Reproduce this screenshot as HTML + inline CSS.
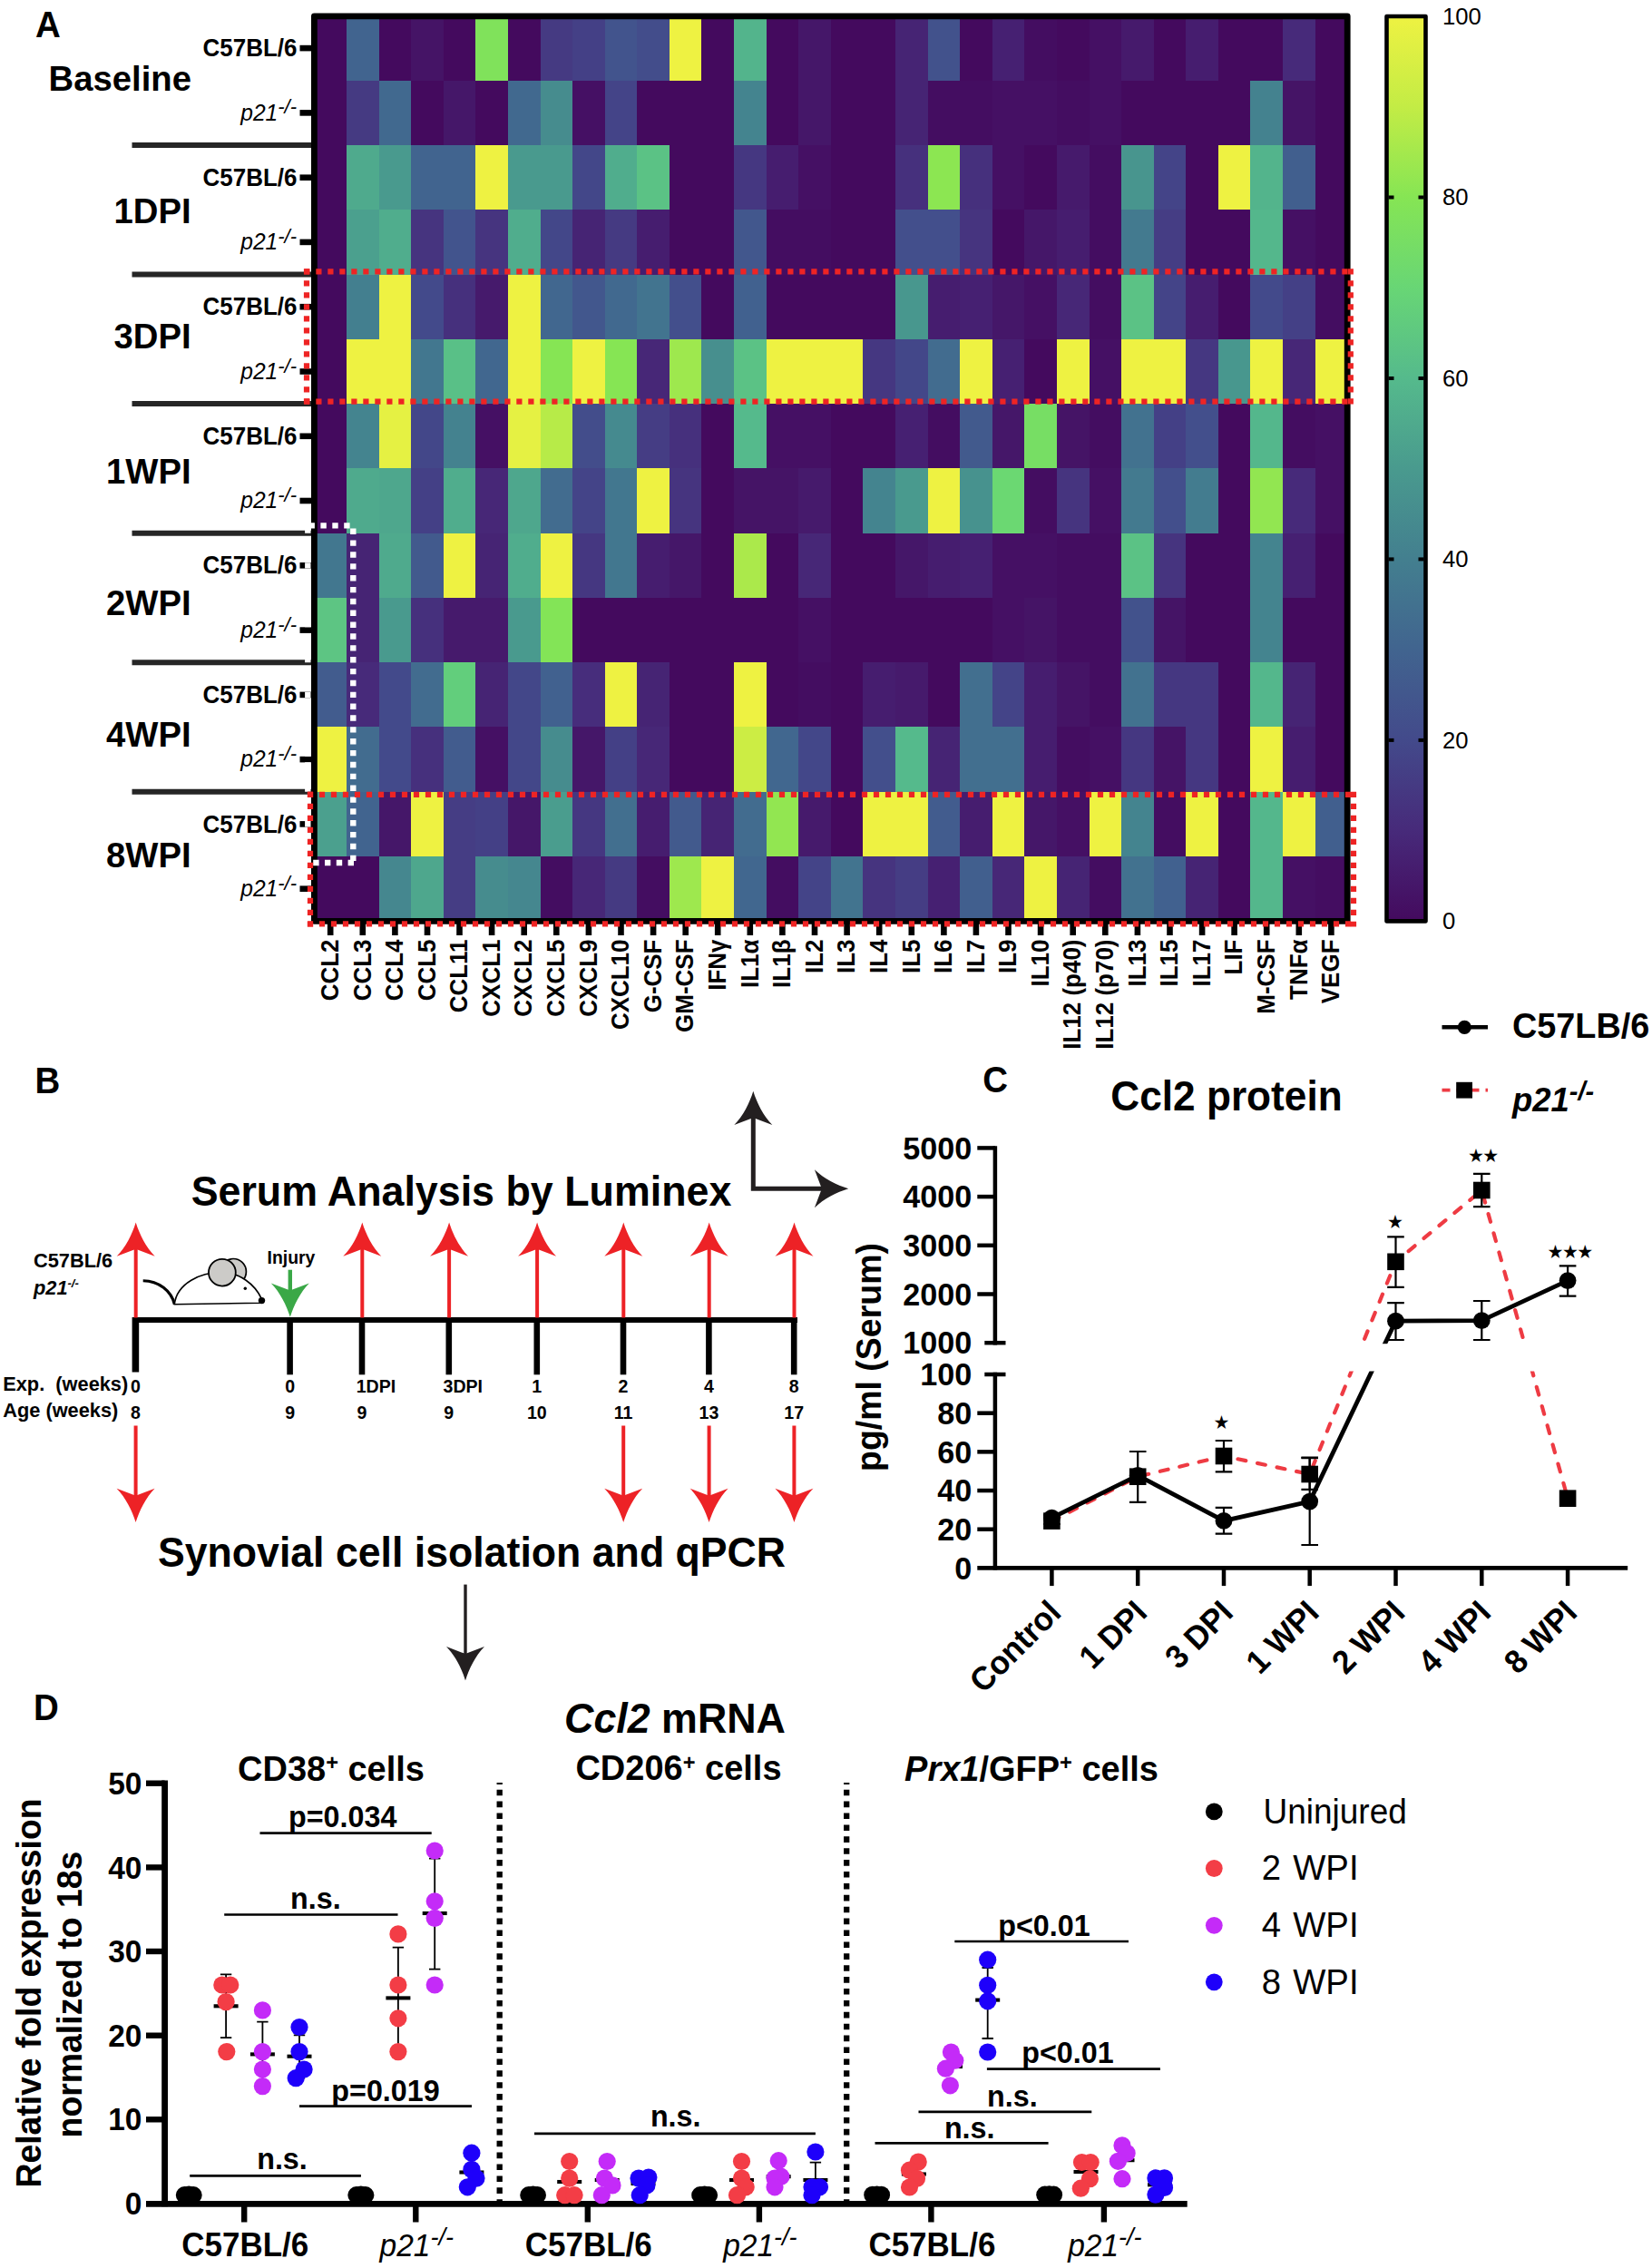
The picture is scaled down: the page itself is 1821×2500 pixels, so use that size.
<!DOCTYPE html>
<html lang="en"><head><meta charset="utf-8"><title>Figure</title>
<style>html,body{margin:0;padding:0;background:#fff}svg{display:block}</style></head>
<body>
<svg width="1821" height="2500" viewBox="0 0 1821 2500" font-family="'Liberation Sans', Arial, Helvetica, sans-serif" fill="#000">
<defs>
<linearGradient id="cb" x1="0" y1="1" x2="0" y2="0">
<stop offset="0%" stop-color="#440a5e"/>
<stop offset="10%" stop-color="#472a7a"/>
<stop offset="20%" stop-color="#434a8b"/>
<stop offset="30%" stop-color="#41648f"/>
<stop offset="40%" stop-color="#437f8f"/>
<stop offset="50%" stop-color="#499a8e"/>
<stop offset="60%" stop-color="#55ba8c"/>
<stop offset="70%" stop-color="#68d675"/>
<stop offset="80%" stop-color="#86e554"/>
<stop offset="90%" stop-color="#c3ec45"/>
<stop offset="100%" stop-color="#eef242"/>
</linearGradient>
<path id="ah" d="M0,0 C-4,13 -11,27 -21,37.3 L-2.5,30.3 L0,29.3 L2.5,30.3 L21,37.3 C11,27 4,13 0,0 Z"/>
</defs>
<rect width="1821" height="2500" fill="#fff"/>
<g id="panelA">
<g shape-rendering="crispEdges">
<rect x="346.40" y="17.50" width="36.09" height="71.77" fill="#440a5e"/>
<rect x="381.99" y="17.50" width="36.09" height="71.77" fill="#41648f"/>
<rect x="417.57" y="17.50" width="36.09" height="71.77" fill="#440a5e"/>
<rect x="453.16" y="17.50" width="36.09" height="71.77" fill="#451466"/>
<rect x="488.75" y="17.50" width="36.09" height="71.77" fill="#440a5e"/>
<rect x="524.34" y="17.50" width="36.09" height="71.77" fill="#80e25b"/>
<rect x="559.92" y="17.50" width="36.09" height="71.77" fill="#440a5e"/>
<rect x="595.51" y="17.50" width="36.09" height="71.77" fill="#453a82"/>
<rect x="631.10" y="17.50" width="36.09" height="71.77" fill="#444086"/>
<rect x="666.69" y="17.50" width="36.09" height="71.77" fill="#42548d"/>
<rect x="702.28" y="17.50" width="36.09" height="71.77" fill="#434d8b"/>
<rect x="737.86" y="17.50" width="36.09" height="71.77" fill="#eef242"/>
<rect x="773.45" y="17.50" width="36.09" height="71.77" fill="#440a5e"/>
<rect x="809.04" y="17.50" width="36.09" height="71.77" fill="#53b48c"/>
<rect x="844.62" y="17.50" width="36.09" height="71.77" fill="#440a5e"/>
<rect x="880.21" y="17.50" width="36.09" height="71.77" fill="#451769"/>
<rect x="915.80" y="17.50" width="71.68" height="71.77" fill="#440a5e"/>
<rect x="986.98" y="17.50" width="36.09" height="71.77" fill="#462474"/>
<rect x="1022.56" y="17.50" width="36.09" height="71.77" fill="#42528c"/>
<rect x="1058.15" y="17.50" width="36.09" height="71.77" fill="#440a5e"/>
<rect x="1093.74" y="17.50" width="36.09" height="71.77" fill="#462072"/>
<rect x="1129.33" y="17.50" width="36.09" height="71.77" fill="#440d61"/>
<rect x="1164.91" y="17.50" width="36.09" height="71.77" fill="#440a5e"/>
<rect x="1200.50" y="17.50" width="36.09" height="71.77" fill="#451064"/>
<rect x="1236.09" y="17.50" width="36.09" height="71.77" fill="#461a6c"/>
<rect x="1271.68" y="17.50" width="36.09" height="71.77" fill="#440a5e"/>
<rect x="1307.26" y="17.50" width="36.09" height="71.77" fill="#461d6f"/>
<rect x="1342.85" y="17.50" width="71.68" height="71.77" fill="#440a5e"/>
<rect x="1414.03" y="17.50" width="36.09" height="71.77" fill="#472a7a"/>
<rect x="1449.61" y="17.50" width="36.09" height="71.77" fill="#440a5e"/>
<rect x="346.40" y="88.77" width="36.09" height="71.77" fill="#440a5e"/>
<rect x="381.99" y="88.77" width="36.09" height="71.77" fill="#453a82"/>
<rect x="417.57" y="88.77" width="36.09" height="71.77" fill="#41698f"/>
<rect x="453.16" y="88.77" width="36.09" height="71.77" fill="#440a5e"/>
<rect x="488.75" y="88.77" width="36.09" height="71.77" fill="#451769"/>
<rect x="524.34" y="88.77" width="36.09" height="71.77" fill="#440a5e"/>
<rect x="559.92" y="88.77" width="36.09" height="71.77" fill="#41698f"/>
<rect x="595.51" y="88.77" width="36.09" height="71.77" fill="#468c8e"/>
<rect x="631.10" y="88.77" width="36.09" height="71.77" fill="#451064"/>
<rect x="666.69" y="88.77" width="36.09" height="71.77" fill="#444488"/>
<rect x="702.28" y="88.77" width="107.26" height="71.77" fill="#440a5e"/>
<rect x="809.04" y="88.77" width="36.09" height="71.77" fill="#44848f"/>
<rect x="844.62" y="88.77" width="36.09" height="71.77" fill="#440a5e"/>
<rect x="880.21" y="88.77" width="36.09" height="71.77" fill="#451769"/>
<rect x="915.80" y="88.77" width="71.68" height="71.77" fill="#440a5e"/>
<rect x="986.98" y="88.77" width="36.09" height="71.77" fill="#462474"/>
<rect x="1022.56" y="88.77" width="71.68" height="71.77" fill="#440d61"/>
<rect x="1093.74" y="88.77" width="71.68" height="71.77" fill="#451064"/>
<rect x="1164.91" y="88.77" width="36.09" height="71.77" fill="#440d61"/>
<rect x="1200.50" y="88.77" width="36.09" height="71.77" fill="#451064"/>
<rect x="1236.09" y="88.77" width="142.85" height="71.77" fill="#440a5e"/>
<rect x="1378.44" y="88.77" width="36.09" height="71.77" fill="#44828f"/>
<rect x="1414.03" y="88.77" width="36.09" height="71.77" fill="#451466"/>
<rect x="1449.61" y="88.77" width="36.09" height="71.77" fill="#440a5e"/>
<rect x="346.40" y="160.04" width="36.09" height="71.77" fill="#440a5e"/>
<rect x="381.99" y="160.04" width="36.09" height="71.77" fill="#4faa8d"/>
<rect x="417.57" y="160.04" width="36.09" height="71.77" fill="#499a8e"/>
<rect x="453.16" y="160.04" width="71.68" height="71.77" fill="#41648f"/>
<rect x="524.34" y="160.04" width="36.09" height="71.77" fill="#eef242"/>
<rect x="559.92" y="160.04" width="71.68" height="71.77" fill="#499a8e"/>
<rect x="631.10" y="160.04" width="36.09" height="71.77" fill="#434789"/>
<rect x="666.69" y="160.04" width="36.09" height="71.77" fill="#50ad8d"/>
<rect x="702.28" y="160.04" width="36.09" height="71.77" fill="#5bc285"/>
<rect x="737.86" y="160.04" width="71.68" height="71.77" fill="#440a5e"/>
<rect x="809.04" y="160.04" width="36.09" height="71.77" fill="#453781"/>
<rect x="844.62" y="160.04" width="36.09" height="71.77" fill="#461d6f"/>
<rect x="880.21" y="160.04" width="36.09" height="71.77" fill="#451064"/>
<rect x="915.80" y="160.04" width="71.68" height="71.77" fill="#440a5e"/>
<rect x="986.98" y="160.04" width="36.09" height="71.77" fill="#46307d"/>
<rect x="1022.56" y="160.04" width="36.09" height="71.77" fill="#8ce652"/>
<rect x="1058.15" y="160.04" width="36.09" height="71.77" fill="#46307d"/>
<rect x="1093.74" y="160.04" width="36.09" height="71.77" fill="#451064"/>
<rect x="1129.33" y="160.04" width="36.09" height="71.77" fill="#440a5e"/>
<rect x="1164.91" y="160.04" width="36.09" height="71.77" fill="#461a6c"/>
<rect x="1200.50" y="160.04" width="36.09" height="71.77" fill="#440d61"/>
<rect x="1236.09" y="160.04" width="36.09" height="71.77" fill="#48958e"/>
<rect x="1271.68" y="160.04" width="36.09" height="71.77" fill="#444488"/>
<rect x="1307.26" y="160.04" width="36.09" height="71.77" fill="#440a5e"/>
<rect x="1342.85" y="160.04" width="36.09" height="71.77" fill="#eef242"/>
<rect x="1378.44" y="160.04" width="36.09" height="71.77" fill="#53b48c"/>
<rect x="1414.03" y="160.04" width="36.09" height="71.77" fill="#415f8e"/>
<rect x="1449.61" y="160.04" width="36.09" height="71.77" fill="#440a5e"/>
<rect x="346.40" y="231.31" width="36.09" height="71.77" fill="#440a5e"/>
<rect x="381.99" y="231.31" width="36.09" height="71.77" fill="#4ba08e"/>
<rect x="417.57" y="231.31" width="36.09" height="71.77" fill="#50ad8d"/>
<rect x="453.16" y="231.31" width="36.09" height="71.77" fill="#46347f"/>
<rect x="488.75" y="231.31" width="36.09" height="71.77" fill="#42548d"/>
<rect x="524.34" y="231.31" width="36.09" height="71.77" fill="#46347f"/>
<rect x="559.92" y="231.31" width="36.09" height="71.77" fill="#50ad8d"/>
<rect x="595.51" y="231.31" width="36.09" height="71.77" fill="#434789"/>
<rect x="631.10" y="231.31" width="36.09" height="71.77" fill="#462474"/>
<rect x="666.69" y="231.31" width="36.09" height="71.77" fill="#453a82"/>
<rect x="702.28" y="231.31" width="36.09" height="71.77" fill="#461d6f"/>
<rect x="737.86" y="231.31" width="71.68" height="71.77" fill="#440a5e"/>
<rect x="809.04" y="231.31" width="36.09" height="71.77" fill="#42578d"/>
<rect x="844.62" y="231.31" width="71.68" height="71.77" fill="#440d61"/>
<rect x="915.80" y="231.31" width="71.68" height="71.77" fill="#440a5e"/>
<rect x="986.98" y="231.31" width="71.68" height="71.77" fill="#434f8c"/>
<rect x="1058.15" y="231.31" width="36.09" height="71.77" fill="#46347f"/>
<rect x="1093.74" y="231.31" width="36.09" height="71.77" fill="#440a5e"/>
<rect x="1129.33" y="231.31" width="36.09" height="71.77" fill="#451769"/>
<rect x="1164.91" y="231.31" width="36.09" height="71.77" fill="#461d6f"/>
<rect x="1200.50" y="231.31" width="36.09" height="71.77" fill="#440d61"/>
<rect x="1236.09" y="231.31" width="36.09" height="71.77" fill="#437a8f"/>
<rect x="1271.68" y="231.31" width="36.09" height="71.77" fill="#453d84"/>
<rect x="1307.26" y="231.31" width="71.68" height="71.77" fill="#440a5e"/>
<rect x="1378.44" y="231.31" width="36.09" height="71.77" fill="#54b78c"/>
<rect x="1414.03" y="231.31" width="36.09" height="71.77" fill="#451064"/>
<rect x="1449.61" y="231.31" width="36.09" height="71.77" fill="#440a5e"/>
<rect x="346.40" y="302.59" width="36.09" height="71.77" fill="#440a5e"/>
<rect x="381.99" y="302.59" width="36.09" height="71.77" fill="#437f8f"/>
<rect x="417.57" y="302.59" width="36.09" height="71.77" fill="#eef242"/>
<rect x="453.16" y="302.59" width="36.09" height="71.77" fill="#434a8b"/>
<rect x="488.75" y="302.59" width="36.09" height="71.77" fill="#46307d"/>
<rect x="524.34" y="302.59" width="36.09" height="71.77" fill="#461a6c"/>
<rect x="559.92" y="302.59" width="36.09" height="71.77" fill="#eef242"/>
<rect x="595.51" y="302.59" width="36.09" height="71.77" fill="#41678f"/>
<rect x="631.10" y="302.59" width="36.09" height="71.77" fill="#42578d"/>
<rect x="666.69" y="302.59" width="36.09" height="71.77" fill="#41698f"/>
<rect x="702.28" y="302.59" width="36.09" height="71.77" fill="#42748f"/>
<rect x="737.86" y="302.59" width="36.09" height="71.77" fill="#434f8c"/>
<rect x="773.45" y="302.59" width="36.09" height="71.77" fill="#440a5e"/>
<rect x="809.04" y="302.59" width="36.09" height="71.77" fill="#41618f"/>
<rect x="844.62" y="302.59" width="142.85" height="71.77" fill="#440a5e"/>
<rect x="986.98" y="302.59" width="36.09" height="71.77" fill="#48978e"/>
<rect x="1022.56" y="302.59" width="36.09" height="71.77" fill="#461d6f"/>
<rect x="1058.15" y="302.59" width="36.09" height="71.77" fill="#462072"/>
<rect x="1093.74" y="302.59" width="36.09" height="71.77" fill="#451769"/>
<rect x="1129.33" y="302.59" width="36.09" height="71.77" fill="#451064"/>
<rect x="1164.91" y="302.59" width="36.09" height="71.77" fill="#472777"/>
<rect x="1200.50" y="302.59" width="36.09" height="71.77" fill="#440d61"/>
<rect x="1236.09" y="302.59" width="36.09" height="71.77" fill="#5bc285"/>
<rect x="1271.68" y="302.59" width="36.09" height="71.77" fill="#444488"/>
<rect x="1307.26" y="302.59" width="36.09" height="71.77" fill="#461d6f"/>
<rect x="1342.85" y="302.59" width="36.09" height="71.77" fill="#440a5e"/>
<rect x="1378.44" y="302.59" width="36.09" height="71.77" fill="#434a8b"/>
<rect x="1414.03" y="302.59" width="36.09" height="71.77" fill="#444086"/>
<rect x="1449.61" y="302.59" width="36.09" height="71.77" fill="#440d61"/>
<rect x="346.40" y="373.86" width="36.09" height="71.77" fill="#440a5e"/>
<rect x="381.99" y="373.86" width="71.68" height="71.77" fill="#eef242"/>
<rect x="453.16" y="373.86" width="36.09" height="71.77" fill="#42778f"/>
<rect x="488.75" y="373.86" width="36.09" height="71.77" fill="#59c087"/>
<rect x="524.34" y="373.86" width="36.09" height="71.77" fill="#41678f"/>
<rect x="559.92" y="373.86" width="36.09" height="71.77" fill="#eef242"/>
<rect x="595.51" y="373.86" width="36.09" height="71.77" fill="#86e554"/>
<rect x="631.10" y="373.86" width="36.09" height="71.77" fill="#eef242"/>
<rect x="666.69" y="373.86" width="36.09" height="71.77" fill="#86e554"/>
<rect x="702.28" y="373.86" width="36.09" height="71.77" fill="#472777"/>
<rect x="737.86" y="373.86" width="36.09" height="71.77" fill="#9ee84e"/>
<rect x="773.45" y="373.86" width="36.09" height="71.77" fill="#478f8e"/>
<rect x="809.04" y="373.86" width="36.09" height="71.77" fill="#5bc285"/>
<rect x="844.62" y="373.86" width="107.26" height="71.77" fill="#eef242"/>
<rect x="951.39" y="373.86" width="36.09" height="71.77" fill="#453781"/>
<rect x="986.98" y="373.86" width="36.09" height="71.77" fill="#434789"/>
<rect x="1022.56" y="373.86" width="36.09" height="71.77" fill="#426c8f"/>
<rect x="1058.15" y="373.86" width="36.09" height="71.77" fill="#eef242"/>
<rect x="1093.74" y="373.86" width="36.09" height="71.77" fill="#462072"/>
<rect x="1129.33" y="373.86" width="36.09" height="71.77" fill="#440a5e"/>
<rect x="1164.91" y="373.86" width="36.09" height="71.77" fill="#eef242"/>
<rect x="1200.50" y="373.86" width="36.09" height="71.77" fill="#451064"/>
<rect x="1236.09" y="373.86" width="71.68" height="71.77" fill="#eef242"/>
<rect x="1307.26" y="373.86" width="36.09" height="71.77" fill="#453781"/>
<rect x="1342.85" y="373.86" width="36.09" height="71.77" fill="#48978e"/>
<rect x="1378.44" y="373.86" width="36.09" height="71.77" fill="#eef242"/>
<rect x="1414.03" y="373.86" width="36.09" height="71.77" fill="#472777"/>
<rect x="1449.61" y="373.86" width="36.09" height="71.77" fill="#eef242"/>
<rect x="346.40" y="445.13" width="36.09" height="71.77" fill="#440a5e"/>
<rect x="381.99" y="445.13" width="36.09" height="71.77" fill="#44848f"/>
<rect x="417.57" y="445.13" width="36.09" height="71.77" fill="#e5f143"/>
<rect x="453.16" y="445.13" width="36.09" height="71.77" fill="#434789"/>
<rect x="488.75" y="445.13" width="36.09" height="71.77" fill="#44828f"/>
<rect x="524.34" y="445.13" width="36.09" height="71.77" fill="#451064"/>
<rect x="559.92" y="445.13" width="36.09" height="71.77" fill="#e5f143"/>
<rect x="595.51" y="445.13" width="36.09" height="71.77" fill="#b7eb48"/>
<rect x="631.10" y="445.13" width="36.09" height="71.77" fill="#434d8b"/>
<rect x="666.69" y="445.13" width="36.09" height="71.77" fill="#458a8f"/>
<rect x="702.28" y="445.13" width="36.09" height="71.77" fill="#453d84"/>
<rect x="737.86" y="445.13" width="36.09" height="71.77" fill="#46307d"/>
<rect x="773.45" y="445.13" width="36.09" height="71.77" fill="#440a5e"/>
<rect x="809.04" y="445.13" width="36.09" height="71.77" fill="#55ba8c"/>
<rect x="844.62" y="445.13" width="71.68" height="71.77" fill="#451064"/>
<rect x="915.80" y="445.13" width="71.68" height="71.77" fill="#440a5e"/>
<rect x="986.98" y="445.13" width="36.09" height="71.77" fill="#462072"/>
<rect x="1022.56" y="445.13" width="36.09" height="71.77" fill="#440d61"/>
<rect x="1058.15" y="445.13" width="36.09" height="71.77" fill="#425a8d"/>
<rect x="1093.74" y="445.13" width="36.09" height="71.77" fill="#451769"/>
<rect x="1129.33" y="445.13" width="36.09" height="71.77" fill="#77de64"/>
<rect x="1164.91" y="445.13" width="36.09" height="71.77" fill="#451466"/>
<rect x="1200.50" y="445.13" width="36.09" height="71.77" fill="#440d61"/>
<rect x="1236.09" y="445.13" width="36.09" height="71.77" fill="#42728f"/>
<rect x="1271.68" y="445.13" width="36.09" height="71.77" fill="#444086"/>
<rect x="1307.26" y="445.13" width="36.09" height="71.77" fill="#434f8c"/>
<rect x="1342.85" y="445.13" width="36.09" height="71.77" fill="#440a5e"/>
<rect x="1378.44" y="445.13" width="36.09" height="71.77" fill="#54b78c"/>
<rect x="1414.03" y="445.13" width="36.09" height="71.77" fill="#440d61"/>
<rect x="1449.61" y="445.13" width="36.09" height="71.77" fill="#451064"/>
<rect x="346.40" y="516.40" width="36.09" height="71.77" fill="#440a5e"/>
<rect x="381.99" y="516.40" width="36.09" height="71.77" fill="#4faa8d"/>
<rect x="417.57" y="516.40" width="36.09" height="71.77" fill="#4ea78d"/>
<rect x="453.16" y="516.40" width="36.09" height="71.77" fill="#444086"/>
<rect x="488.75" y="516.40" width="36.09" height="71.77" fill="#50ad8d"/>
<rect x="524.34" y="516.40" width="36.09" height="71.77" fill="#472777"/>
<rect x="559.92" y="516.40" width="36.09" height="71.77" fill="#4ea78d"/>
<rect x="595.51" y="516.40" width="36.09" height="71.77" fill="#426c8f"/>
<rect x="631.10" y="516.40" width="36.09" height="71.77" fill="#444488"/>
<rect x="666.69" y="516.40" width="36.09" height="71.77" fill="#42778f"/>
<rect x="702.28" y="516.40" width="36.09" height="71.77" fill="#eef242"/>
<rect x="737.86" y="516.40" width="36.09" height="71.77" fill="#46347f"/>
<rect x="773.45" y="516.40" width="36.09" height="71.77" fill="#440a5e"/>
<rect x="809.04" y="516.40" width="71.68" height="71.77" fill="#451466"/>
<rect x="880.21" y="516.40" width="36.09" height="71.77" fill="#461a6c"/>
<rect x="915.80" y="516.40" width="36.09" height="71.77" fill="#440a5e"/>
<rect x="951.39" y="516.40" width="36.09" height="71.77" fill="#44848f"/>
<rect x="986.98" y="516.40" width="36.09" height="71.77" fill="#499a8e"/>
<rect x="1022.56" y="516.40" width="36.09" height="71.77" fill="#eef242"/>
<rect x="1058.15" y="516.40" width="36.09" height="71.77" fill="#47928e"/>
<rect x="1093.74" y="516.40" width="36.09" height="71.77" fill="#6bd872"/>
<rect x="1129.33" y="516.40" width="36.09" height="71.77" fill="#440d61"/>
<rect x="1164.91" y="516.40" width="36.09" height="71.77" fill="#46347f"/>
<rect x="1200.50" y="516.40" width="36.09" height="71.77" fill="#451064"/>
<rect x="1236.09" y="516.40" width="36.09" height="71.77" fill="#437a8f"/>
<rect x="1271.68" y="516.40" width="36.09" height="71.77" fill="#434f8c"/>
<rect x="1307.26" y="516.40" width="36.09" height="71.77" fill="#437c8f"/>
<rect x="1342.85" y="516.40" width="36.09" height="71.77" fill="#440a5e"/>
<rect x="1378.44" y="516.40" width="36.09" height="71.77" fill="#92e651"/>
<rect x="1414.03" y="516.40" width="36.09" height="71.77" fill="#472a7a"/>
<rect x="1449.61" y="516.40" width="36.09" height="71.77" fill="#451064"/>
<rect x="346.40" y="587.67" width="36.09" height="71.77" fill="#42778f"/>
<rect x="381.99" y="587.67" width="36.09" height="71.77" fill="#462474"/>
<rect x="417.57" y="587.67" width="36.09" height="71.77" fill="#4faa8d"/>
<rect x="453.16" y="587.67" width="36.09" height="71.77" fill="#425a8d"/>
<rect x="488.75" y="587.67" width="36.09" height="71.77" fill="#eef242"/>
<rect x="524.34" y="587.67" width="36.09" height="71.77" fill="#462474"/>
<rect x="559.92" y="587.67" width="36.09" height="71.77" fill="#50ad8d"/>
<rect x="595.51" y="587.67" width="36.09" height="71.77" fill="#eef242"/>
<rect x="631.10" y="587.67" width="36.09" height="71.77" fill="#453781"/>
<rect x="666.69" y="587.67" width="36.09" height="71.77" fill="#42778f"/>
<rect x="702.28" y="587.67" width="36.09" height="71.77" fill="#461d6f"/>
<rect x="737.86" y="587.67" width="36.09" height="71.77" fill="#451769"/>
<rect x="773.45" y="587.67" width="36.09" height="71.77" fill="#440a5e"/>
<rect x="809.04" y="587.67" width="36.09" height="71.77" fill="#abe94b"/>
<rect x="844.62" y="587.67" width="36.09" height="71.77" fill="#440a5e"/>
<rect x="880.21" y="587.67" width="36.09" height="71.77" fill="#472777"/>
<rect x="915.80" y="587.67" width="71.68" height="71.77" fill="#440a5e"/>
<rect x="986.98" y="587.67" width="36.09" height="71.77" fill="#451769"/>
<rect x="1022.56" y="587.67" width="36.09" height="71.77" fill="#461d6f"/>
<rect x="1058.15" y="587.67" width="36.09" height="71.77" fill="#462072"/>
<rect x="1093.74" y="587.67" width="71.68" height="71.77" fill="#451064"/>
<rect x="1164.91" y="587.67" width="71.68" height="71.77" fill="#440d61"/>
<rect x="1236.09" y="587.67" width="36.09" height="71.77" fill="#5bc285"/>
<rect x="1271.68" y="587.67" width="36.09" height="71.77" fill="#46347f"/>
<rect x="1307.26" y="587.67" width="71.68" height="71.77" fill="#440a5e"/>
<rect x="1378.44" y="587.67" width="36.09" height="71.77" fill="#44848f"/>
<rect x="1414.03" y="587.67" width="36.09" height="71.77" fill="#462072"/>
<rect x="1449.61" y="587.67" width="36.09" height="71.77" fill="#440a5e"/>
<rect x="346.40" y="658.94" width="36.09" height="71.77" fill="#5dc583"/>
<rect x="381.99" y="658.94" width="36.09" height="71.77" fill="#462474"/>
<rect x="417.57" y="658.94" width="36.09" height="71.77" fill="#499a8e"/>
<rect x="453.16" y="658.94" width="36.09" height="71.77" fill="#46307d"/>
<rect x="488.75" y="658.94" width="71.68" height="71.77" fill="#461a6c"/>
<rect x="559.92" y="658.94" width="36.09" height="71.77" fill="#499a8e"/>
<rect x="595.51" y="658.94" width="36.09" height="71.77" fill="#83e457"/>
<rect x="631.10" y="658.94" width="249.61" height="71.77" fill="#440a5e"/>
<rect x="880.21" y="658.94" width="36.09" height="71.77" fill="#451064"/>
<rect x="915.80" y="658.94" width="178.44" height="71.77" fill="#440a5e"/>
<rect x="1093.74" y="658.94" width="36.09" height="71.77" fill="#451064"/>
<rect x="1129.33" y="658.94" width="36.09" height="71.77" fill="#451466"/>
<rect x="1164.91" y="658.94" width="71.68" height="71.77" fill="#440d61"/>
<rect x="1236.09" y="658.94" width="36.09" height="71.77" fill="#42528c"/>
<rect x="1271.68" y="658.94" width="36.09" height="71.77" fill="#451466"/>
<rect x="1307.26" y="658.94" width="71.68" height="71.77" fill="#440a5e"/>
<rect x="1378.44" y="658.94" width="36.09" height="71.77" fill="#44848f"/>
<rect x="1414.03" y="658.94" width="71.68" height="71.77" fill="#440a5e"/>
<rect x="346.40" y="730.21" width="36.09" height="71.77" fill="#425c8e"/>
<rect x="381.99" y="730.21" width="36.09" height="71.77" fill="#472a7a"/>
<rect x="417.57" y="730.21" width="36.09" height="71.77" fill="#434a8b"/>
<rect x="453.16" y="730.21" width="36.09" height="71.77" fill="#426c8f"/>
<rect x="488.75" y="730.21" width="36.09" height="71.77" fill="#62ce7c"/>
<rect x="524.34" y="730.21" width="36.09" height="71.77" fill="#462474"/>
<rect x="559.92" y="730.21" width="36.09" height="71.77" fill="#434789"/>
<rect x="595.51" y="730.21" width="36.09" height="71.77" fill="#41618f"/>
<rect x="631.10" y="730.21" width="36.09" height="71.77" fill="#472d7c"/>
<rect x="666.69" y="730.21" width="36.09" height="71.77" fill="#eef242"/>
<rect x="702.28" y="730.21" width="36.09" height="71.77" fill="#462474"/>
<rect x="737.86" y="730.21" width="71.68" height="71.77" fill="#440a5e"/>
<rect x="809.04" y="730.21" width="36.09" height="71.77" fill="#eef242"/>
<rect x="844.62" y="730.21" width="36.09" height="71.77" fill="#440a5e"/>
<rect x="880.21" y="730.21" width="36.09" height="71.77" fill="#440d61"/>
<rect x="915.80" y="730.21" width="36.09" height="71.77" fill="#440a5e"/>
<rect x="951.39" y="730.21" width="36.09" height="71.77" fill="#461d6f"/>
<rect x="986.98" y="730.21" width="36.09" height="71.77" fill="#461a6c"/>
<rect x="1022.56" y="730.21" width="36.09" height="71.77" fill="#440a5e"/>
<rect x="1058.15" y="730.21" width="36.09" height="71.77" fill="#426f8f"/>
<rect x="1093.74" y="730.21" width="36.09" height="71.77" fill="#444488"/>
<rect x="1129.33" y="730.21" width="36.09" height="71.77" fill="#461d6f"/>
<rect x="1164.91" y="730.21" width="36.09" height="71.77" fill="#451466"/>
<rect x="1200.50" y="730.21" width="36.09" height="71.77" fill="#440d61"/>
<rect x="1236.09" y="730.21" width="36.09" height="71.77" fill="#42728f"/>
<rect x="1271.68" y="730.21" width="71.68" height="71.77" fill="#453781"/>
<rect x="1342.85" y="730.21" width="36.09" height="71.77" fill="#440a5e"/>
<rect x="1378.44" y="730.21" width="36.09" height="71.77" fill="#54b78c"/>
<rect x="1414.03" y="730.21" width="36.09" height="71.77" fill="#462474"/>
<rect x="1449.61" y="730.21" width="36.09" height="71.77" fill="#440a5e"/>
<rect x="346.40" y="801.49" width="36.09" height="71.77" fill="#eef242"/>
<rect x="381.99" y="801.49" width="36.09" height="71.77" fill="#426c8f"/>
<rect x="417.57" y="801.49" width="36.09" height="71.77" fill="#434a8b"/>
<rect x="453.16" y="801.49" width="36.09" height="71.77" fill="#46307d"/>
<rect x="488.75" y="801.49" width="36.09" height="71.77" fill="#425c8e"/>
<rect x="524.34" y="801.49" width="36.09" height="71.77" fill="#451064"/>
<rect x="559.92" y="801.49" width="36.09" height="71.77" fill="#434789"/>
<rect x="595.51" y="801.49" width="36.09" height="71.77" fill="#468c8e"/>
<rect x="631.10" y="801.49" width="36.09" height="71.77" fill="#451769"/>
<rect x="666.69" y="801.49" width="36.09" height="71.77" fill="#444086"/>
<rect x="702.28" y="801.49" width="36.09" height="71.77" fill="#472777"/>
<rect x="737.86" y="801.49" width="71.68" height="71.77" fill="#440a5e"/>
<rect x="809.04" y="801.49" width="36.09" height="71.77" fill="#cced44"/>
<rect x="844.62" y="801.49" width="36.09" height="71.77" fill="#41678f"/>
<rect x="880.21" y="801.49" width="36.09" height="71.77" fill="#434789"/>
<rect x="915.80" y="801.49" width="36.09" height="71.77" fill="#440a5e"/>
<rect x="951.39" y="801.49" width="36.09" height="71.77" fill="#434f8c"/>
<rect x="986.98" y="801.49" width="36.09" height="71.77" fill="#55ba8c"/>
<rect x="1022.56" y="801.49" width="36.09" height="71.77" fill="#462474"/>
<rect x="1058.15" y="801.49" width="71.68" height="71.77" fill="#426f8f"/>
<rect x="1129.33" y="801.49" width="36.09" height="71.77" fill="#461d6f"/>
<rect x="1164.91" y="801.49" width="36.09" height="71.77" fill="#440d61"/>
<rect x="1200.50" y="801.49" width="36.09" height="71.77" fill="#451064"/>
<rect x="1236.09" y="801.49" width="36.09" height="71.77" fill="#453781"/>
<rect x="1271.68" y="801.49" width="36.09" height="71.77" fill="#451466"/>
<rect x="1307.26" y="801.49" width="36.09" height="71.77" fill="#453781"/>
<rect x="1342.85" y="801.49" width="36.09" height="71.77" fill="#440a5e"/>
<rect x="1378.44" y="801.49" width="36.09" height="71.77" fill="#eef242"/>
<rect x="1414.03" y="801.49" width="36.09" height="71.77" fill="#461d6f"/>
<rect x="1449.61" y="801.49" width="36.09" height="71.77" fill="#440a5e"/>
<rect x="346.40" y="872.76" width="36.09" height="71.77" fill="#4ba08e"/>
<rect x="381.99" y="872.76" width="36.09" height="71.77" fill="#41648f"/>
<rect x="417.57" y="872.76" width="36.09" height="71.77" fill="#451769"/>
<rect x="453.16" y="872.76" width="36.09" height="71.77" fill="#eef242"/>
<rect x="488.75" y="872.76" width="36.09" height="71.77" fill="#453d84"/>
<rect x="524.34" y="872.76" width="36.09" height="71.77" fill="#444086"/>
<rect x="559.92" y="872.76" width="36.09" height="71.77" fill="#451769"/>
<rect x="595.51" y="872.76" width="36.09" height="71.77" fill="#4a9d8e"/>
<rect x="631.10" y="872.76" width="36.09" height="71.77" fill="#453781"/>
<rect x="666.69" y="872.76" width="36.09" height="71.77" fill="#426f8f"/>
<rect x="702.28" y="872.76" width="36.09" height="71.77" fill="#461d6f"/>
<rect x="737.86" y="872.76" width="36.09" height="71.77" fill="#425a8d"/>
<rect x="773.45" y="872.76" width="36.09" height="71.77" fill="#462474"/>
<rect x="809.04" y="872.76" width="36.09" height="71.77" fill="#426c8f"/>
<rect x="844.62" y="872.76" width="36.09" height="71.77" fill="#92e651"/>
<rect x="880.21" y="872.76" width="36.09" height="71.77" fill="#461a6c"/>
<rect x="915.80" y="872.76" width="36.09" height="71.77" fill="#440a5e"/>
<rect x="951.39" y="872.76" width="71.68" height="71.77" fill="#eef242"/>
<rect x="1022.56" y="872.76" width="36.09" height="71.77" fill="#425c8e"/>
<rect x="1058.15" y="872.76" width="36.09" height="71.77" fill="#461d6f"/>
<rect x="1093.74" y="872.76" width="36.09" height="71.77" fill="#eef242"/>
<rect x="1129.33" y="872.76" width="36.09" height="71.77" fill="#451769"/>
<rect x="1164.91" y="872.76" width="36.09" height="71.77" fill="#451064"/>
<rect x="1200.50" y="872.76" width="36.09" height="71.77" fill="#eef242"/>
<rect x="1236.09" y="872.76" width="36.09" height="71.77" fill="#44848f"/>
<rect x="1271.68" y="872.76" width="36.09" height="71.77" fill="#440d61"/>
<rect x="1307.26" y="872.76" width="36.09" height="71.77" fill="#eef242"/>
<rect x="1342.85" y="872.76" width="36.09" height="71.77" fill="#440a5e"/>
<rect x="1378.44" y="872.76" width="36.09" height="71.77" fill="#54b78c"/>
<rect x="1414.03" y="872.76" width="36.09" height="71.77" fill="#eef242"/>
<rect x="1449.61" y="872.76" width="36.09" height="71.77" fill="#415f8e"/>
<rect x="346.40" y="944.03" width="71.68" height="71.77" fill="#440a5e"/>
<rect x="417.57" y="944.03" width="36.09" height="71.77" fill="#45878f"/>
<rect x="453.16" y="944.03" width="36.09" height="71.77" fill="#4ea78d"/>
<rect x="488.75" y="944.03" width="36.09" height="71.77" fill="#453d84"/>
<rect x="524.34" y="944.03" width="36.09" height="71.77" fill="#468c8e"/>
<rect x="559.92" y="944.03" width="36.09" height="71.77" fill="#45878f"/>
<rect x="595.51" y="944.03" width="36.09" height="71.77" fill="#440d61"/>
<rect x="631.10" y="944.03" width="36.09" height="71.77" fill="#472777"/>
<rect x="666.69" y="944.03" width="36.09" height="71.77" fill="#453a82"/>
<rect x="702.28" y="944.03" width="36.09" height="71.77" fill="#440d61"/>
<rect x="737.86" y="944.03" width="36.09" height="71.77" fill="#9ee84e"/>
<rect x="773.45" y="944.03" width="36.09" height="71.77" fill="#eef242"/>
<rect x="809.04" y="944.03" width="36.09" height="71.77" fill="#41678f"/>
<rect x="844.62" y="944.03" width="36.09" height="71.77" fill="#440d61"/>
<rect x="880.21" y="944.03" width="36.09" height="71.77" fill="#444488"/>
<rect x="915.80" y="944.03" width="36.09" height="71.77" fill="#42748f"/>
<rect x="951.39" y="944.03" width="36.09" height="71.77" fill="#46347f"/>
<rect x="986.98" y="944.03" width="36.09" height="71.77" fill="#453d84"/>
<rect x="1022.56" y="944.03" width="36.09" height="71.77" fill="#462072"/>
<rect x="1058.15" y="944.03" width="36.09" height="71.77" fill="#415f8e"/>
<rect x="1093.74" y="944.03" width="36.09" height="71.77" fill="#472777"/>
<rect x="1129.33" y="944.03" width="36.09" height="71.77" fill="#eef242"/>
<rect x="1164.91" y="944.03" width="36.09" height="71.77" fill="#462474"/>
<rect x="1200.50" y="944.03" width="36.09" height="71.77" fill="#440d61"/>
<rect x="1236.09" y="944.03" width="36.09" height="71.77" fill="#42728f"/>
<rect x="1271.68" y="944.03" width="36.09" height="71.77" fill="#41618f"/>
<rect x="1307.26" y="944.03" width="36.09" height="71.77" fill="#462474"/>
<rect x="1342.85" y="944.03" width="36.09" height="71.77" fill="#440a5e"/>
<rect x="1378.44" y="944.03" width="36.09" height="71.77" fill="#54b78c"/>
<rect x="1414.03" y="944.03" width="36.09" height="71.77" fill="#451064"/>
<rect x="1449.61" y="944.03" width="36.09" height="71.77" fill="#440d61"/>
</g>
<line x1="145.5" y1="160.0" x2="346" y2="160.0" stroke="#262626" stroke-width="6"/>
<line x1="145.5" y1="302.6" x2="346" y2="302.6" stroke="#262626" stroke-width="6"/>
<line x1="145.5" y1="445.1" x2="346" y2="445.1" stroke="#262626" stroke-width="6"/>
<line x1="145.5" y1="587.7" x2="346" y2="587.7" stroke="#262626" stroke-width="6"/>
<line x1="145.5" y1="730.2" x2="346" y2="730.2" stroke="#262626" stroke-width="6"/>
<line x1="145.5" y1="872.8" x2="346" y2="872.8" stroke="#262626" stroke-width="6"/>
<rect x="346.4" y="17.8" width="1138.8" height="997.5" fill="none" stroke="#000" stroke-width="6.8" stroke-linejoin="round"/>
<line x1="330.5" y1="53.1" x2="344" y2="53.1" stroke="#000" stroke-width="6.6"/>
<text transform="matrix(1,0,0,1.035,0,-2.180)" x="327.5" y="62.3" font-size="26" font-weight="bold" text-anchor="end">C57BL/6</text>
<line x1="330.5" y1="124.4" x2="344" y2="124.4" stroke="#000" stroke-width="6.6"/>
<text transform="matrix(1,0,0,1.035,0,-4.644)" x="327" y="132.7" font-size="24.6" font-style="italic" text-anchor="end">p21<tspan font-size="22" dy="-7">-/-</tspan></text>
<line x1="330.5" y1="195.7" x2="344" y2="195.7" stroke="#000" stroke-width="6.6"/>
<text transform="matrix(1,0,0,1.035,0,-7.171)" x="327.5" y="204.9" font-size="26" font-weight="bold" text-anchor="end">C57BL/6</text>
<line x1="330.5" y1="266.9" x2="344" y2="266.9" stroke="#000" stroke-width="6.6"/>
<text transform="matrix(1,0,0,1.035,0,-9.632)" x="327" y="275.2" font-size="24.6" font-style="italic" text-anchor="end">p21<tspan font-size="22" dy="-7">-/-</tspan></text>
<line x1="330.5" y1="338.2" x2="344" y2="338.2" stroke="#000" stroke-width="6.6"/>
<text transform="matrix(1,0,0,1.035,0,-12.159)" x="327.5" y="347.4" font-size="26" font-weight="bold" text-anchor="end">C57BL/6</text>
<line x1="330.5" y1="409.5" x2="344" y2="409.5" stroke="#000" stroke-width="6.6"/>
<text transform="matrix(1,0,0,1.035,0,-14.623)" x="327" y="417.8" font-size="24.6" font-style="italic" text-anchor="end">p21<tspan font-size="22" dy="-7">-/-</tspan></text>
<line x1="330.5" y1="480.8" x2="344" y2="480.8" stroke="#000" stroke-width="6.6"/>
<text transform="matrix(1,0,0,1.035,0,-17.150)" x="327.5" y="490.0" font-size="26" font-weight="bold" text-anchor="end">C57BL/6</text>
<line x1="330.5" y1="552.0" x2="344" y2="552.0" stroke="#000" stroke-width="6.6"/>
<text transform="matrix(1,0,0,1.035,0,-19.610)" x="327" y="560.3" font-size="24.6" font-style="italic" text-anchor="end">p21<tspan font-size="22" dy="-7">-/-</tspan></text>
<line x1="330.5" y1="623.3" x2="344" y2="623.3" stroke="#000" stroke-width="6.6"/>
<text transform="matrix(1,0,0,1.035,0,-22.137)" x="327.5" y="632.5" font-size="26" font-weight="bold" text-anchor="end">C57BL/6</text>
<line x1="330.5" y1="694.6" x2="344" y2="694.6" stroke="#000" stroke-width="6.6"/>
<text transform="matrix(1,0,0,1.035,0,-24.601)" x="327" y="702.9" font-size="24.6" font-style="italic" text-anchor="end">p21<tspan font-size="22" dy="-7">-/-</tspan></text>
<line x1="330.5" y1="765.9" x2="344" y2="765.9" stroke="#000" stroke-width="6.6"/>
<text transform="matrix(1,0,0,1.035,0,-27.128)" x="327.5" y="775.1" font-size="26" font-weight="bold" text-anchor="end">C57BL/6</text>
<line x1="330.5" y1="837.1" x2="344" y2="837.1" stroke="#000" stroke-width="6.6"/>
<text transform="matrix(1,0,0,1.035,0,-29.589)" x="327" y="845.4" font-size="24.6" font-style="italic" text-anchor="end">p21<tspan font-size="22" dy="-7">-/-</tspan></text>
<line x1="330.5" y1="908.4" x2="344" y2="908.4" stroke="#000" stroke-width="6.6"/>
<text transform="matrix(1,0,0,1.035,0,-32.116)" x="327.5" y="917.6" font-size="26" font-weight="bold" text-anchor="end">C57BL/6</text>
<line x1="330.5" y1="979.7" x2="344" y2="979.7" stroke="#000" stroke-width="6.6"/>
<text transform="matrix(1,0,0,1.035,0,-34.580)" x="327" y="988.0" font-size="24.6" font-style="italic" text-anchor="end">p21<tspan font-size="22" dy="-7">-/-</tspan></text>
<text transform="matrix(1,0,0,1.035,0,-3.493)" x="211" y="99.8" font-size="38.3" font-weight="bold" text-anchor="end">Baseline</text>
<text transform="matrix(1,0,0,1.035,0,-8.617)" x="210.6" y="246.2" font-size="38.3" font-weight="bold" text-anchor="end">1DPI</text>
<text transform="matrix(1,0,0,1.035,0,-13.440)" x="210.6" y="384.0" font-size="38.3" font-weight="bold" text-anchor="end">3DPI</text>
<text transform="matrix(1,0,0,1.035,0,-18.644)" x="210.6" y="532.7" font-size="38.3" font-weight="bold" text-anchor="end">1WPI</text>
<text transform="matrix(1,0,0,1.035,0,-23.716)" x="210.6" y="677.6" font-size="38.3" font-weight="bold" text-anchor="end">2WPI</text>
<text transform="matrix(1,0,0,1.035,0,-28.808)" x="210.6" y="823.1" font-size="38.3" font-weight="bold" text-anchor="end">4WPI</text>
<text transform="matrix(1,0,0,1.035,0,-33.477)" x="210.6" y="956.5" font-size="38.3" font-weight="bold" text-anchor="end">8WPI</text>
<text transform="matrix(1,0,0,1.035,0,-1.442)" x="38.9" y="41.2" font-size="38.5" font-weight="bold">A</text>
<line x1="364.2" y1="1017" x2="364.2" y2="1031" stroke="#000" stroke-width="6.6"/>
<text transform="translate(372.9,1035.5) rotate(-90) scale(1,1.035)" font-size="26" font-weight="bold" text-anchor="end">CCL2</text>
<line x1="399.8" y1="1017" x2="399.8" y2="1031" stroke="#000" stroke-width="6.6"/>
<text transform="translate(408.5,1035.5) rotate(-90) scale(1,1.035)" font-size="26" font-weight="bold" text-anchor="end">CCL3</text>
<line x1="435.4" y1="1017" x2="435.4" y2="1031" stroke="#000" stroke-width="6.6"/>
<text transform="translate(444.1,1035.5) rotate(-90) scale(1,1.035)" font-size="26" font-weight="bold" text-anchor="end">CCL4</text>
<line x1="471.0" y1="1017" x2="471.0" y2="1031" stroke="#000" stroke-width="6.6"/>
<text transform="translate(479.7,1035.5) rotate(-90) scale(1,1.035)" font-size="26" font-weight="bold" text-anchor="end">CCL5</text>
<line x1="506.5" y1="1017" x2="506.5" y2="1031" stroke="#000" stroke-width="6.6"/>
<text transform="translate(515.2,1035.5) rotate(-90) scale(1,1.035)" font-size="26" font-weight="bold" text-anchor="end">CCL11</text>
<line x1="542.1" y1="1017" x2="542.1" y2="1031" stroke="#000" stroke-width="6.6"/>
<text transform="translate(550.8,1035.5) rotate(-90) scale(1,1.035)" font-size="26" font-weight="bold" text-anchor="end">CXCL1</text>
<line x1="577.7" y1="1017" x2="577.7" y2="1031" stroke="#000" stroke-width="6.6"/>
<text transform="translate(586.4,1035.5) rotate(-90) scale(1,1.035)" font-size="26" font-weight="bold" text-anchor="end">CXCL2</text>
<line x1="613.3" y1="1017" x2="613.3" y2="1031" stroke="#000" stroke-width="6.6"/>
<text transform="translate(622.0,1035.5) rotate(-90) scale(1,1.035)" font-size="26" font-weight="bold" text-anchor="end">CXCL5</text>
<line x1="648.9" y1="1017" x2="648.9" y2="1031" stroke="#000" stroke-width="6.6"/>
<text transform="translate(657.6,1035.5) rotate(-90) scale(1,1.035)" font-size="26" font-weight="bold" text-anchor="end">CXCL9</text>
<line x1="684.5" y1="1017" x2="684.5" y2="1031" stroke="#000" stroke-width="6.6"/>
<text transform="translate(693.2,1035.5) rotate(-90) scale(1,1.035)" font-size="26" font-weight="bold" text-anchor="end">CXCL10</text>
<line x1="720.1" y1="1017" x2="720.1" y2="1031" stroke="#000" stroke-width="6.6"/>
<text transform="translate(728.8,1035.5) rotate(-90) scale(1,1.035)" font-size="26" font-weight="bold" text-anchor="end">G-CSF</text>
<line x1="755.7" y1="1017" x2="755.7" y2="1031" stroke="#000" stroke-width="6.6"/>
<text transform="translate(764.4,1035.5) rotate(-90) scale(1,1.035)" font-size="26" font-weight="bold" text-anchor="end">GM-CSF</text>
<line x1="791.2" y1="1017" x2="791.2" y2="1031" stroke="#000" stroke-width="6.6"/>
<text transform="translate(799.9,1035.5) rotate(-90) scale(1,1.035)" font-size="26" font-weight="bold" text-anchor="end">IFNγ</text>
<line x1="826.8" y1="1017" x2="826.8" y2="1031" stroke="#000" stroke-width="6.6"/>
<text transform="translate(835.5,1035.5) rotate(-90) scale(1,1.035)" font-size="26" font-weight="bold" text-anchor="end">IL1α</text>
<line x1="862.4" y1="1017" x2="862.4" y2="1031" stroke="#000" stroke-width="6.6"/>
<text transform="translate(871.1,1035.5) rotate(-90) scale(1,1.035)" font-size="26" font-weight="bold" text-anchor="end">IL1β</text>
<line x1="898.0" y1="1017" x2="898.0" y2="1031" stroke="#000" stroke-width="6.6"/>
<text transform="translate(906.7,1035.5) rotate(-90) scale(1,1.035)" font-size="26" font-weight="bold" text-anchor="end">IL2</text>
<line x1="933.6" y1="1017" x2="933.6" y2="1031" stroke="#000" stroke-width="6.6"/>
<text transform="translate(942.3,1035.5) rotate(-90) scale(1,1.035)" font-size="26" font-weight="bold" text-anchor="end">IL3</text>
<line x1="969.2" y1="1017" x2="969.2" y2="1031" stroke="#000" stroke-width="6.6"/>
<text transform="translate(977.9,1035.5) rotate(-90) scale(1,1.035)" font-size="26" font-weight="bold" text-anchor="end">IL4</text>
<line x1="1004.8" y1="1017" x2="1004.8" y2="1031" stroke="#000" stroke-width="6.6"/>
<text transform="translate(1013.5,1035.5) rotate(-90) scale(1,1.035)" font-size="26" font-weight="bold" text-anchor="end">IL5</text>
<line x1="1040.4" y1="1017" x2="1040.4" y2="1031" stroke="#000" stroke-width="6.6"/>
<text transform="translate(1049.1,1035.5) rotate(-90) scale(1,1.035)" font-size="26" font-weight="bold" text-anchor="end">IL6</text>
<line x1="1075.9" y1="1017" x2="1075.9" y2="1031" stroke="#000" stroke-width="6.6"/>
<text transform="translate(1084.6,1035.5) rotate(-90) scale(1,1.035)" font-size="26" font-weight="bold" text-anchor="end">IL7</text>
<line x1="1111.5" y1="1017" x2="1111.5" y2="1031" stroke="#000" stroke-width="6.6"/>
<text transform="translate(1120.2,1035.5) rotate(-90) scale(1,1.035)" font-size="26" font-weight="bold" text-anchor="end">IL9</text>
<line x1="1147.1" y1="1017" x2="1147.1" y2="1031" stroke="#000" stroke-width="6.6"/>
<text transform="translate(1155.8,1035.5) rotate(-90) scale(1,1.035)" font-size="26" font-weight="bold" text-anchor="end">IL10</text>
<line x1="1182.7" y1="1017" x2="1182.7" y2="1031" stroke="#000" stroke-width="6.6"/>
<text transform="translate(1191.4,1035.5) rotate(-90) scale(1,1.035)" font-size="26" font-weight="bold" text-anchor="end">IL12 (p40)</text>
<line x1="1218.3" y1="1017" x2="1218.3" y2="1031" stroke="#000" stroke-width="6.6"/>
<text transform="translate(1227.0,1035.5) rotate(-90) scale(1,1.035)" font-size="26" font-weight="bold" text-anchor="end">IL12 (p70)</text>
<line x1="1253.9" y1="1017" x2="1253.9" y2="1031" stroke="#000" stroke-width="6.6"/>
<text transform="translate(1262.6,1035.5) rotate(-90) scale(1,1.035)" font-size="26" font-weight="bold" text-anchor="end">IL13</text>
<line x1="1289.5" y1="1017" x2="1289.5" y2="1031" stroke="#000" stroke-width="6.6"/>
<text transform="translate(1298.2,1035.5) rotate(-90) scale(1,1.035)" font-size="26" font-weight="bold" text-anchor="end">IL15</text>
<line x1="1325.1" y1="1017" x2="1325.1" y2="1031" stroke="#000" stroke-width="6.6"/>
<text transform="translate(1333.8,1035.5) rotate(-90) scale(1,1.035)" font-size="26" font-weight="bold" text-anchor="end">IL17</text>
<line x1="1360.6" y1="1017" x2="1360.6" y2="1031" stroke="#000" stroke-width="6.6"/>
<text transform="translate(1369.3,1035.5) rotate(-90) scale(1,1.035)" font-size="26" font-weight="bold" text-anchor="end">LIF</text>
<line x1="1396.2" y1="1017" x2="1396.2" y2="1031" stroke="#000" stroke-width="6.6"/>
<text transform="translate(1404.9,1035.5) rotate(-90) scale(1,1.035)" font-size="26" font-weight="bold" text-anchor="end">M-CSF</text>
<line x1="1431.8" y1="1017" x2="1431.8" y2="1031" stroke="#000" stroke-width="6.6"/>
<text transform="translate(1440.5,1035.5) rotate(-90) scale(1,1.035)" font-size="26" font-weight="bold" text-anchor="end">TNFα</text>
<line x1="1467.4" y1="1017" x2="1467.4" y2="1031" stroke="#000" stroke-width="6.6"/>
<text transform="translate(1476.1,1035.5) rotate(-90) scale(1,1.035)" font-size="26" font-weight="bold" text-anchor="end">VEGF</text>
<line x1="340.5" y1="579.4" x2="386" y2="579.4" stroke="#fff" stroke-width="6.4" stroke-dasharray="6.4 6.5" stroke-dashoffset="0"/>
<line x1="389.3" y1="582.6" x2="389.3" y2="954" stroke="#fff" stroke-width="6.4" stroke-dasharray="6.4 6.46" stroke-dashoffset="0"/>
<line x1="339.3" y1="568.4" x2="339.3" y2="954" stroke="#fff" stroke-width="6.4" stroke-dasharray="6.4 6.55" stroke-dashoffset="0"/>
<line x1="345.2" y1="951" x2="392.5" y2="951" stroke="#fff" stroke-width="6.4" stroke-dasharray="6.4 6.4" stroke-dashoffset="0"/>
<line x1="335.3" y1="299.4" x2="1492" y2="299.4" stroke="#ee2424" stroke-width="6.2" stroke-dasharray="6.2 6.8" stroke-dashoffset="0"/>
<line x1="335.3" y1="442.7" x2="1492" y2="442.7" stroke="#ee2424" stroke-width="6.2" stroke-dasharray="6.2 6.8" stroke-dashoffset="0"/>
<line x1="338.0" y1="296.3" x2="338.0" y2="446" stroke="#ee2424" stroke-width="6.2" stroke-dasharray="6.2 6.8" stroke-dashoffset="0"/>
<line x1="1488.8" y1="296.3" x2="1488.8" y2="446" stroke="#ee2424" stroke-width="6.2" stroke-dasharray="6.2 6.8" stroke-dashoffset="0"/>
<line x1="338.9" y1="875.8" x2="1495.2" y2="875.8" stroke="#ee2424" stroke-width="6.2" stroke-dasharray="6.2 6.8" stroke-dashoffset="0"/>
<line x1="338.9" y1="1018.3" x2="1495.2" y2="1018.3" stroke="#ee2424" stroke-width="6.2" stroke-dasharray="6.2 6.8" stroke-dashoffset="0"/>
<line x1="342" y1="872.7" x2="342" y2="1021.5" stroke="#ee2424" stroke-width="6.2" stroke-dasharray="6.2 6.8" stroke-dashoffset="0"/>
<line x1="1492" y1="872.7" x2="1492" y2="1021.5" stroke="#ee2424" stroke-width="6.2" stroke-dasharray="6.2 6.8" stroke-dashoffset="0"/>
<rect x="1528.5" y="18" width="43" height="997.4" fill="url(#cb)" stroke="#000" stroke-width="4.6" stroke-linejoin="round"/>
<text transform="matrix(1,0,0,1.035,0,-35.843)" x="1590" y="1024.1" font-size="25.7">0</text>
<line x1="1530.5" y1="815.9" x2="1536.5" y2="815.9" stroke="#000" stroke-width="4"/>
<line x1="1563.5" y1="815.9" x2="1569.5" y2="815.9" stroke="#000" stroke-width="4"/>
<text transform="matrix(1,0,0,1.035,0,-28.861)" x="1590" y="824.6" font-size="25.7">20</text>
<line x1="1530.5" y1="616.4" x2="1536.5" y2="616.4" stroke="#000" stroke-width="4"/>
<line x1="1563.5" y1="616.4" x2="1569.5" y2="616.4" stroke="#000" stroke-width="4"/>
<text transform="matrix(1,0,0,1.035,0,-21.878)" x="1590" y="625.1" font-size="25.7">40</text>
<line x1="1530.5" y1="417.0" x2="1536.5" y2="417.0" stroke="#000" stroke-width="4"/>
<line x1="1563.5" y1="417.0" x2="1569.5" y2="417.0" stroke="#000" stroke-width="4"/>
<text transform="matrix(1,0,0,1.035,0,-14.899)" x="1590" y="425.7" font-size="25.7">60</text>
<line x1="1530.5" y1="217.5" x2="1536.5" y2="217.5" stroke="#000" stroke-width="4"/>
<line x1="1563.5" y1="217.5" x2="1569.5" y2="217.5" stroke="#000" stroke-width="4"/>
<text transform="matrix(1,0,0,1.035,0,-7.917)" x="1590" y="226.2" font-size="25.7">80</text>
<text transform="matrix(1,0,0,1.035,0,-0.934)" x="1590" y="26.7" font-size="25.7">100</text>
</g>
<g id="panelB">
<text transform="matrix(1,0,0,1.035,0,-42.164)" x="38.4" y="1204.7" font-size="38.5" font-weight="bold">B</text>
<text transform="matrix(1,0,0,1.035,0,-46.532)" x="508.5" y="1329.5" font-size="44.8" font-weight="bold" text-anchor="middle">Serum Analysis by Luminex</text>
<text transform="matrix(1,0,0,1.035,0,-60.462)" x="520" y="1727.5" font-size="44.67" font-weight="bold" text-anchor="middle">Synovial cell isolation and qPCR</text>
<line x1="146" y1="1455" x2="879" y2="1455" stroke="#000" stroke-width="6.2"/>
<line x1="149.4" y1="1452" x2="149.4" y2="1512.5" stroke="#000" stroke-width="7.6"/>
<line x1="319.6" y1="1452" x2="319.6" y2="1515.3" stroke="#000" stroke-width="6.6"/>
<line x1="399" y1="1452" x2="399" y2="1515.3" stroke="#000" stroke-width="6.6"/>
<line x1="494.8" y1="1452" x2="494.8" y2="1515.3" stroke="#000" stroke-width="6.6"/>
<line x1="591.8" y1="1452" x2="591.8" y2="1515.3" stroke="#000" stroke-width="6.6"/>
<line x1="687" y1="1452" x2="687" y2="1515.3" stroke="#000" stroke-width="6.6"/>
<line x1="781.4" y1="1452" x2="781.4" y2="1515.3" stroke="#000" stroke-width="6.6"/>
<line x1="875.2" y1="1452" x2="875.2" y2="1515.3" stroke="#000" stroke-width="6.6"/>
<line x1="149.70000000000002" y1="1367.4" x2="149.70000000000002" y2="1452.5" stroke="#ed2226" stroke-width="4"/>
<use href="#ah" transform="translate(149.70000000000002,1347.4)" fill="#ed2226"/>
<line x1="399.3" y1="1367.4" x2="399.3" y2="1452.5" stroke="#ed2226" stroke-width="4"/>
<use href="#ah" transform="translate(399.3,1347.4)" fill="#ed2226"/>
<line x1="495.1" y1="1367.4" x2="495.1" y2="1452.5" stroke="#ed2226" stroke-width="4"/>
<use href="#ah" transform="translate(495.1,1347.4)" fill="#ed2226"/>
<line x1="592.0999999999999" y1="1367.4" x2="592.0999999999999" y2="1452.5" stroke="#ed2226" stroke-width="4"/>
<use href="#ah" transform="translate(592.0999999999999,1347.4)" fill="#ed2226"/>
<line x1="687.3" y1="1367.4" x2="687.3" y2="1452.5" stroke="#ed2226" stroke-width="4"/>
<use href="#ah" transform="translate(687.3,1347.4)" fill="#ed2226"/>
<line x1="781.6999999999999" y1="1367.4" x2="781.6999999999999" y2="1452.5" stroke="#ed2226" stroke-width="4"/>
<use href="#ah" transform="translate(781.6999999999999,1347.4)" fill="#ed2226"/>
<line x1="875.5" y1="1367.4" x2="875.5" y2="1452.5" stroke="#ed2226" stroke-width="4"/>
<use href="#ah" transform="translate(875.5,1347.4)" fill="#ed2226"/>
<line x1="149.6" y1="1571.5" x2="149.6" y2="1658" stroke="#ed2226" stroke-width="4"/>
<use href="#ah" transform="translate(149.6,1678) rotate(180)" fill="#ed2226"/>
<line x1="687.2" y1="1571.5" x2="687.2" y2="1658" stroke="#ed2226" stroke-width="4"/>
<use href="#ah" transform="translate(687.2,1678) rotate(180)" fill="#ed2226"/>
<line x1="781.6" y1="1571.5" x2="781.6" y2="1658" stroke="#ed2226" stroke-width="4"/>
<use href="#ah" transform="translate(781.6,1678) rotate(180)" fill="#ed2226"/>
<line x1="875.4000000000001" y1="1571.5" x2="875.4000000000001" y2="1658" stroke="#ed2226" stroke-width="4"/>
<use href="#ah" transform="translate(875.4000000000001,1678) rotate(180)" fill="#ed2226"/>
<line x1="319.8" y1="1399.7" x2="319.8" y2="1431.8" stroke="#3aa847" stroke-width="4.4"/>
<use href="#ah" transform="translate(319.8,1451.8) rotate(180)" fill="#3aa847"/>
<text transform="matrix(1,0,0,1.035,0,-48.737)" x="321" y="1392.5" font-size="19.4" font-weight="bold" text-anchor="middle">Injury</text>
<text transform="matrix(1,0,0,1.035,0,-48.895)" x="37" y="1397" font-size="21.8" font-weight="bold">C57BL/6</text>
<text transform="matrix(1,0,0,1.035,0,-49.945)" x="37" y="1427" font-size="21.8" font-weight="bold" font-style="italic">p21<tspan font-size="13" dy="-8">-/-</tspan></text>
<text transform="matrix(1,0,0,1.035,0,-53.672)" x="3.2" y="1533.5" font-size="21.8" font-weight="bold" xml:space="preserve">Exp.  (weeks)</text>
<text transform="matrix(1,0,0,1.035,0,-54.687)" x="3.2" y="1562.5" font-size="21.8" font-weight="bold">Age (weeks)</text>
<text transform="matrix(1,0,0,1.035,0,-53.718)" x="149.4" y="1534.8" font-size="19.6" font-weight="bold" text-anchor="middle">0</text>
<text transform="matrix(1,0,0,1.035,0,-54.726)" x="149.4" y="1563.6" font-size="19.6" font-weight="bold" text-anchor="middle">8</text>
<text transform="matrix(1,0,0,1.035,0,-53.718)" x="319.6" y="1534.8" font-size="19.6" font-weight="bold" text-anchor="middle">0</text>
<text transform="matrix(1,0,0,1.035,0,-54.726)" x="319.6" y="1563.6" font-size="19.6" font-weight="bold" text-anchor="middle">9</text>
<text transform="matrix(1,0,0,1.035,0,-53.718)" x="392.7" y="1534.8" font-size="19.6" font-weight="bold">1DPI</text>
<text transform="matrix(1,0,0,1.035,0,-54.726)" x="399" y="1563.6" font-size="19.6" font-weight="bold" text-anchor="middle">9</text>
<text transform="matrix(1,0,0,1.035,0,-53.718)" x="488.5" y="1534.8" font-size="19.6" font-weight="bold">3DPI</text>
<text transform="matrix(1,0,0,1.035,0,-54.726)" x="494.8" y="1563.6" font-size="19.6" font-weight="bold" text-anchor="middle">9</text>
<text transform="matrix(1,0,0,1.035,0,-53.718)" x="591.8" y="1534.8" font-size="19.6" font-weight="bold" text-anchor="middle">1</text>
<text transform="matrix(1,0,0,1.035,0,-54.726)" x="591.8" y="1563.6" font-size="19.6" font-weight="bold" text-anchor="middle">10</text>
<text transform="matrix(1,0,0,1.035,0,-53.718)" x="687" y="1534.8" font-size="19.6" font-weight="bold" text-anchor="middle">2</text>
<text transform="matrix(1,0,0,1.035,0,-54.726)" x="687" y="1563.6" font-size="19.6" font-weight="bold" text-anchor="middle">11</text>
<text transform="matrix(1,0,0,1.035,0,-53.718)" x="781.4" y="1534.8" font-size="19.6" font-weight="bold" text-anchor="middle">4</text>
<text transform="matrix(1,0,0,1.035,0,-54.726)" x="781.4" y="1563.6" font-size="19.6" font-weight="bold" text-anchor="middle">13</text>
<text transform="matrix(1,0,0,1.035,0,-53.718)" x="875.2" y="1534.8" font-size="19.6" font-weight="bold" text-anchor="middle">8</text>
<text transform="matrix(1,0,0,1.035,0,-54.726)" x="875.2" y="1563.6" font-size="19.6" font-weight="bold" text-anchor="middle">17</text>
<path d="M157.7,1411.8 C175,1412 189,1423 192.4,1438" fill="none" stroke="#000" stroke-width="3.1"/>
<circle cx="257.1" cy="1401.8" r="14.3" fill="#cccbc8" stroke="#000" stroke-width="1.7"/>
<path d="M192.3,1437.7 C195,1414 222,1402.5 243,1402.5 C265,1402.5 281,1416 288.5,1431.8 L287,1436.2 Z" fill="#fff" stroke="#000" stroke-width="1.6" stroke-linejoin="round"/>
<circle cx="244.9" cy="1402.7" r="14.9" fill="#cccbc8" stroke="#000" stroke-width="1.8"/>
<circle cx="270.3" cy="1420.2" r="1.7"/>
<circle cx="288.5" cy="1433.6" r="3.7"/>
<path d="M830.3,1225 L830.3,1310.2 L915,1310.2" fill="none" stroke="#231f20" stroke-width="5"/>
<use href="#ah" transform="translate(830.3,1202.7)" fill="#231f20"/>
<use href="#ah" transform="translate(935.2,1310.2) rotate(90)" fill="#231f20"/>
<line x1="513" y1="1746.6" x2="513" y2="1832" stroke="#231f20" stroke-width="3.4"/>
<use href="#ah" transform="translate(513,1852.4) rotate(180)" fill="#231f20"/>
</g>
<g id="panelC">
<text transform="matrix(1,0,0,1.035,0,-42.157)" x="1083.2" y="1204.5" font-size="38.5" font-weight="bold">C</text>
<text transform="matrix(1,0,0,1.035,0,-42.840)" x="1352" y="1224" font-size="44.2" font-weight="bold" text-anchor="middle">Ccl2 protein</text>
<line x1="1589.5" y1="1132.3" x2="1640" y2="1132.3" stroke="#000" stroke-width="4.4"/>
<circle cx="1614.3" cy="1132.3" r="7.6"/>
<text transform="matrix(1,0,0,1.035,0,-40.050)" x="1667" y="1144.3" font-size="37.8" font-weight="bold">C57LB/6</text>
<line x1="1589.5" y1="1201.6" x2="1640" y2="1201.6" stroke="#ee3b43" stroke-width="3.6" stroke-dasharray="9 7"/>
<rect x="1605.2" y="1192.8" width="17.8" height="17.8"/>
<text transform="matrix(1,0,0,1.035,0,-42.875)" x="1667" y="1225" font-size="36.5" font-weight="bold" font-style="italic">p21<tspan font-size="29" dy="-12">-/-</tspan></text>
<line x1="1096.9" y1="1263.2" x2="1096.9" y2="1482.4" stroke="#000" stroke-width="4.5"/>
<line x1="1096.9" y1="1512.8" x2="1096.9" y2="1730.6" stroke="#000" stroke-width="4.5"/>
<line x1="1077.3" y1="1728.4" x2="1794.2" y2="1728.4" stroke="#000" stroke-width="4.6"/>
<line x1="1077.3" y1="1265.4" x2="1096.9" y2="1265.4" stroke="#000" stroke-width="4.5"/>
<text transform="matrix(1,0,0,1.035,0,-44.719)" x="1071.3" y="1277.7" font-size="34.2" font-weight="bold" text-anchor="end">5000</text>
<line x1="1077.3" y1="1319.1000000000001" x2="1096.9" y2="1319.1000000000001" stroke="#000" stroke-width="4.5"/>
<text transform="matrix(1,0,0,1.035,0,-46.599)" x="1071.3" y="1331.4" font-size="34.2" font-weight="bold" text-anchor="end">4000</text>
<line x1="1077.3" y1="1372.8000000000002" x2="1096.9" y2="1372.8000000000002" stroke="#000" stroke-width="4.5"/>
<text transform="matrix(1,0,0,1.035,0,-48.478)" x="1071.3" y="1385.1" font-size="34.2" font-weight="bold" text-anchor="end">3000</text>
<line x1="1077.3" y1="1426.5" x2="1096.9" y2="1426.5" stroke="#000" stroke-width="4.5"/>
<text transform="matrix(1,0,0,1.035,0,-50.358)" x="1071.3" y="1438.8" font-size="34.2" font-weight="bold" text-anchor="end">2000</text>
<line x1="1085.3" y1="1480.2" x2="1108.5" y2="1480.2" stroke="#000" stroke-width="4.5"/>
<text transform="matrix(1,0,0,1.035,0,-52.237)" x="1071.3" y="1492.5" font-size="34.2" font-weight="bold" text-anchor="end">1000</text>
<line x1="1085.3" y1="1515.0" x2="1108.5" y2="1515.0" stroke="#000" stroke-width="4.5"/>
<text transform="matrix(1,0,0,1.035,0,-53.455)" x="1071.3" y="1527.3" font-size="34.2" font-weight="bold" text-anchor="end">100</text>
<line x1="1077.3" y1="1557.68" x2="1096.9" y2="1557.68" stroke="#000" stroke-width="4.5"/>
<text transform="matrix(1,0,0,1.035,0,-54.950)" x="1071.3" y="1570.0" font-size="34.2" font-weight="bold" text-anchor="end">80</text>
<line x1="1077.3" y1="1600.3600000000001" x2="1096.9" y2="1600.3600000000001" stroke="#000" stroke-width="4.5"/>
<text transform="matrix(1,0,0,1.035,0,-56.444)" x="1071.3" y="1612.7" font-size="34.2" font-weight="bold" text-anchor="end">60</text>
<line x1="1077.3" y1="1643.0400000000002" x2="1096.9" y2="1643.0400000000002" stroke="#000" stroke-width="4.5"/>
<text transform="matrix(1,0,0,1.035,0,-57.935)" x="1071.3" y="1655.3" font-size="34.2" font-weight="bold" text-anchor="end">40</text>
<line x1="1077.3" y1="1685.72" x2="1096.9" y2="1685.72" stroke="#000" stroke-width="4.5"/>
<text transform="matrix(1,0,0,1.035,0,-59.430)" x="1071.3" y="1698.0" font-size="34.2" font-weight="bold" text-anchor="end">20</text>
<text transform="matrix(1,0,0,1.035,0,-60.924)" x="1071.3" y="1740.7" font-size="34.2" font-weight="bold" text-anchor="end">0</text>
<line x1="1159.4" y1="1728.4" x2="1159.4" y2="1748.1" stroke="#000" stroke-width="4.5"/>
<text transform="translate(1171.6,1779.7) rotate(-45) scale(1,1.035)" font-size="35" font-weight="bold" text-anchor="end">Control</text>
<line x1="1254.2" y1="1728.4" x2="1254.2" y2="1748.1" stroke="#000" stroke-width="4.5"/>
<text transform="translate(1266.4,1779.7) rotate(-45) scale(1,1.035)" font-size="35" font-weight="bold" text-anchor="end">1 DPI</text>
<line x1="1349.0" y1="1728.4" x2="1349.0" y2="1748.1" stroke="#000" stroke-width="4.5"/>
<text transform="translate(1361.2,1779.7) rotate(-45) scale(1,1.035)" font-size="35" font-weight="bold" text-anchor="end">3 DPI</text>
<line x1="1443.7" y1="1728.4" x2="1443.7" y2="1748.1" stroke="#000" stroke-width="4.5"/>
<text transform="translate(1455.9,1779.7) rotate(-45) scale(1,1.035)" font-size="35" font-weight="bold" text-anchor="end">1 WPI</text>
<line x1="1538.5" y1="1728.4" x2="1538.5" y2="1748.1" stroke="#000" stroke-width="4.5"/>
<text transform="translate(1550.7,1779.7) rotate(-45) scale(1,1.035)" font-size="35" font-weight="bold" text-anchor="end">2 WPI</text>
<line x1="1633.3" y1="1728.4" x2="1633.3" y2="1748.1" stroke="#000" stroke-width="4.5"/>
<text transform="translate(1645.5,1779.7) rotate(-45) scale(1,1.035)" font-size="35" font-weight="bold" text-anchor="end">4 WPI</text>
<line x1="1728.1" y1="1728.4" x2="1728.1" y2="1748.1" stroke="#000" stroke-width="4.5"/>
<text transform="translate(1740.3,1779.7) rotate(-45) scale(1,1.035)" font-size="35" font-weight="bold" text-anchor="end">8 WPI</text>
<text transform="translate(970.9,1496) rotate(-90) scale(1,1.035)" font-size="37.5" font-weight="bold" text-anchor="middle">pg/ml (Serum)</text>
<polyline points="1159.4,1676.6 1254.2,1627.7 1349.0,1605 1443.7,1625 1538.5,1390.8 1633.3,1312 1728.1,1651.7" fill="none" stroke="#ee3b43" stroke-width="4.2" stroke-dasharray="9 13" stroke-linecap="round"/>
<polyline points="1159.4,1673.2 1254.2,1626.4 1349.0,1676.4 1443.7,1655.1 1538.5,1456.2 1633.3,1455.7 1728.1,1411.6" fill="none" stroke="#000" stroke-width="4.8"/>
<rect x="1112" y="1481.2" width="700" height="30.3" fill="#fff"/>
<path d="M1254.2,1600 L1254.2,1655.9 M1244.9,1600 h18.6 M1244.9,1655.9 h18.6" fill="none" stroke="#000" stroke-width="2.2"/>
<path d="M1349.0,1588 L1349.0,1622.4 M1339.7,1588 h18.6 M1339.7,1622.4 h18.6" fill="none" stroke="#000" stroke-width="2.2"/>
<path d="M1349.0,1661.8 L1349.0,1690.6 M1339.7,1661.8 h18.6 M1339.7,1690.6 h18.6" fill="none" stroke="#000" stroke-width="2.2"/>
<path d="M1443.7,1606.7 L1443.7,1641.8 M1434.4,1606.7 h18.6 M1434.4,1641.8 h18.6" fill="none" stroke="#000" stroke-width="2.2"/>
<path d="M1443.7,1607.2 L1443.7,1703 M1434.4,1607.2 h18.6 M1434.4,1703 h18.6" fill="none" stroke="#000" stroke-width="2.2"/>
<path d="M1538.5,1363.3 L1538.5,1418.8 M1529.2,1363.3 h18.6 M1529.2,1418.8 h18.6" fill="none" stroke="#000" stroke-width="2.2"/>
<path d="M1633.3,1293.9 L1633.3,1330.2 M1624.0,1293.9 h18.6 M1624.0,1330.2 h18.6" fill="none" stroke="#000" stroke-width="2.2"/>
<path d="M1538.5,1436.2 L1538.5,1477 M1529.2,1436.2 h18.6 M1529.2,1477 h18.6" fill="none" stroke="#000" stroke-width="2.2"/>
<path d="M1633.3,1434 L1633.3,1477 M1624.0,1434 h18.6 M1624.0,1477 h18.6" fill="none" stroke="#000" stroke-width="2.2"/>
<path d="M1728.1,1395.3 L1728.1,1428.7 M1718.8,1395.3 h18.6 M1718.8,1428.7 h18.6" fill="none" stroke="#000" stroke-width="2.2"/>
<path d="M1159.4,1670 L1159.4,1680 M1150.1,1670 h18.6 M1150.1,1680 h18.6" fill="none" stroke="#000" stroke-width="2.2"/>
<circle cx="1159.4" cy="1673.2" r="9.4"/>
<circle cx="1254.2" cy="1626.4" r="9.4"/>
<circle cx="1349.0" cy="1676.4" r="9.4"/>
<circle cx="1443.7" cy="1655.1" r="9.4"/>
<circle cx="1538.5" cy="1456.2" r="9.4"/>
<circle cx="1633.3" cy="1455.7" r="9.4"/>
<circle cx="1728.1" cy="1411.6" r="9.4"/>
<rect x="1150.1" y="1667.3" width="18.6" height="18.6"/>
<rect x="1244.9" y="1618.4" width="18.6" height="18.6"/>
<rect x="1339.7" y="1595.7" width="18.6" height="18.6"/>
<rect x="1434.4" y="1615.7" width="18.6" height="18.6"/>
<rect x="1529.2" y="1381.5" width="18.6" height="18.6"/>
<rect x="1624.0" y="1302.7" width="18.6" height="18.6"/>
<rect x="1718.8" y="1642.4" width="18.6" height="18.6"/>
<text transform="matrix(1,0,0,1.035,0,-55.125)" x="1345.6" y="1575" font-size="20" text-anchor="middle" letter-spacing="-1.6" font-family="'DejaVu Sans', sans-serif">★</text>
<text transform="matrix(1,0,0,1.035,0,-47.390)" x="1537.3" y="1354" font-size="20" text-anchor="middle" letter-spacing="-1.6" font-family="'DejaVu Sans', sans-serif">★</text>
<text transform="matrix(1,0,0,1.035,0,-44.835)" x="1634.3" y="1281" font-size="20" text-anchor="middle" letter-spacing="-1.6" font-family="'DejaVu Sans', sans-serif">★★</text>
<text transform="matrix(1,0,0,1.035,0,-48.545)" x="1730.1" y="1387" font-size="20" text-anchor="middle" letter-spacing="-1.6" font-family="'DejaVu Sans', sans-serif">★★★</text>
</g>
<g id="panelD">
<text transform="matrix(1,0,0,1.035,0,-66.367)" x="36.9" y="1896.2" font-size="38.5" font-weight="bold">D</text>
<text transform="matrix(1,0,0,1.035,0,-66.850)" x="744" y="1910" font-size="44.8" font-weight="bold" text-anchor="middle"><tspan font-style="italic">Ccl2</tspan> mRNA</text>
<text transform="matrix(1,0,0,1.035,0,-68.715)" x="365" y="1963.3" font-size="38.0" font-weight="bold" text-anchor="middle">CD38<tspan font-size="23.6" dy="-11.4">+</tspan><tspan dy="11.4"> </tspan>cells</text>
<text transform="matrix(1,0,0,1.035,0,-68.684)" x="748" y="1962.4" font-size="38.0" font-weight="bold" text-anchor="middle">CD206<tspan font-size="23.6" dy="-11.4">+</tspan><tspan dy="11.4"> </tspan>cells</text>
<text transform="matrix(1,0,0,1.035,0,-68.698)" x="1137" y="1962.8" font-size="38.0" font-weight="bold" text-anchor="middle"><tspan font-style="italic">Prx1</tspan>/GFP<tspan font-size="23.6" dy="-11.4">+</tspan><tspan dy="11.4"> </tspan>cells</text>
<line x1="181.6" y1="1962.5" x2="181.6" y2="2432.3" stroke="#000" stroke-width="6.8"/>
<line x1="161" y1="2429.4" x2="1308.7" y2="2429.4" stroke="#000" stroke-width="6.8"/>
<line x1="161" y1="1965.7" x2="181.6" y2="1965.7" stroke="#000" stroke-width="6.4"/>
<text transform="matrix(1,0,0,1.035,0,-69.226)" x="156.5" y="1977.9" font-size="33.5" font-weight="bold" text-anchor="end">50</text>
<line x1="161" y1="2058.4" x2="181.6" y2="2058.4" stroke="#000" stroke-width="6.4"/>
<text transform="matrix(1,0,0,1.035,0,-72.471)" x="156.5" y="2070.6" font-size="33.5" font-weight="bold" text-anchor="end">40</text>
<line x1="161" y1="2151.0" x2="181.6" y2="2151.0" stroke="#000" stroke-width="6.4"/>
<text transform="matrix(1,0,0,1.035,0,-75.712)" x="156.5" y="2163.2" font-size="33.5" font-weight="bold" text-anchor="end">30</text>
<line x1="161" y1="2243.7" x2="181.6" y2="2243.7" stroke="#000" stroke-width="6.4"/>
<text transform="matrix(1,0,0,1.035,0,-78.956)" x="156.5" y="2255.9" font-size="33.5" font-weight="bold" text-anchor="end">20</text>
<line x1="161" y1="2336.3" x2="181.6" y2="2336.3" stroke="#000" stroke-width="6.4"/>
<text transform="matrix(1,0,0,1.035,0,-82.197)" x="156.5" y="2348.5" font-size="33.5" font-weight="bold" text-anchor="end">10</text>
<text transform="matrix(1,0,0,1.035,0,-85.442)" x="156.5" y="2441.2" font-size="33.5" font-weight="bold" text-anchor="end">0</text>
<line x1="269.2" y1="2429" x2="269.2" y2="2449.5" stroke="#000" stroke-width="6.4"/>
<text transform="matrix(1,0,0,1.035,0,-87.038)" x="270.2" y="2486.8" font-size="35" font-weight="bold" text-anchor="middle">C57BL/6</text>
<line x1="458.3" y1="2429" x2="458.3" y2="2449.5" stroke="#000" stroke-width="6.4"/>
<text transform="matrix(1,0,0,1.035,0,-87.038)" x="459.3" y="2486.8" font-size="33.5" font-style="italic" text-anchor="middle">p21<tspan font-size="27" dy="-11.5">-/-</tspan></text>
<line x1="647.8" y1="2429" x2="647.8" y2="2449.5" stroke="#000" stroke-width="6.4"/>
<text transform="matrix(1,0,0,1.035,0,-87.038)" x="648.8" y="2486.8" font-size="35" font-weight="bold" text-anchor="middle">C57BL/6</text>
<line x1="836.9" y1="2429" x2="836.9" y2="2449.5" stroke="#000" stroke-width="6.4"/>
<text transform="matrix(1,0,0,1.035,0,-87.038)" x="837.9" y="2486.8" font-size="33.5" font-style="italic" text-anchor="middle">p21<tspan font-size="27" dy="-11.5">-/-</tspan></text>
<line x1="1026.4" y1="2429" x2="1026.4" y2="2449.5" stroke="#000" stroke-width="6.4"/>
<text transform="matrix(1,0,0,1.035,0,-87.038)" x="1027.4" y="2486.8" font-size="35" font-weight="bold" text-anchor="middle">C57BL/6</text>
<line x1="1216.9" y1="2429" x2="1216.9" y2="2449.5" stroke="#000" stroke-width="6.4"/>
<text transform="matrix(1,0,0,1.035,0,-87.038)" x="1217.9" y="2486.8" font-size="33.5" font-style="italic" text-anchor="middle">p21<tspan font-size="27" dy="-11.5">-/-</tspan></text>
<text transform="translate(45.3,2197) rotate(-90) scale(1,1.035)" font-size="37.3" font-weight="bold" text-anchor="middle">Relative fold expression</text>
<text transform="translate(89.9,2198.5) rotate(-90) scale(1,1.035)" font-size="37.4" font-weight="bold" text-anchor="middle">normalized to 18s</text>
<line x1="550.7" y1="1965" x2="550.7" y2="1967" stroke="#000" stroke-width="6.3"/>
<line x1="550.7" y1="1972.7" x2="550.7" y2="2426" stroke="#000" stroke-width="6.3" stroke-dasharray="6.6 6.3"/>
<line x1="933.2" y1="1965" x2="933.2" y2="1967" stroke="#000" stroke-width="6.3"/>
<line x1="933.2" y1="1972.7" x2="933.2" y2="2426" stroke="#000" stroke-width="6.3" stroke-dasharray="6.6 6.3"/>
<line x1="286.5" y1="2020.6" x2="475.7" y2="2020.6" stroke="#000" stroke-width="2.7"/>
<text transform="matrix(1,0,0,1.035,0,-70.479)" x="377.7" y="2013.7" font-size="32.3" font-weight="bold" text-anchor="middle">p=0.034</text>
<line x1="247.2" y1="2110.5" x2="438.5" y2="2110.5" stroke="#000" stroke-width="2.7"/>
<text transform="matrix(1,0,0,1.035,0,-73.640)" x="347.9" y="2104" font-size="32.3" font-weight="bold" text-anchor="middle">n.s.</text>
<line x1="330" y1="2321.7" x2="520" y2="2321.7" stroke="#000" stroke-width="2.7"/>
<text transform="matrix(1,0,0,1.035,0,-81.056)" x="425" y="2315.9" font-size="32.3" font-weight="bold" text-anchor="middle">p=0.019</text>
<line x1="209.2" y1="2398.4" x2="397.9" y2="2398.4" stroke="#000" stroke-width="2.7"/>
<text transform="matrix(1,0,0,1.035,0,-83.699)" x="311" y="2391.4" font-size="32.3" font-weight="bold" text-anchor="middle">n.s.</text>
<line x1="589" y1="2351.9" x2="898.9" y2="2351.9" stroke="#000" stroke-width="2.7"/>
<text transform="matrix(1,0,0,1.035,0,-82.047)" x="744.7" y="2344.2" font-size="32.3" font-weight="bold" text-anchor="middle">n.s.</text>
<line x1="1052.3" y1="2140" x2="1244" y2="2140" stroke="#000" stroke-width="2.7"/>
<text transform="matrix(1,0,0,1.035,0,-74.676)" x="1151" y="2133.6" font-size="32.3" font-weight="bold" text-anchor="middle">p&lt;0.01</text>
<line x1="1087.9" y1="2280.6" x2="1278.9" y2="2280.6" stroke="#000" stroke-width="2.7"/>
<text transform="matrix(1,0,0,1.035,0,-79.583)" x="1177" y="2273.8" font-size="32.3" font-weight="bold" text-anchor="middle">p&lt;0.01</text>
<line x1="1012.5" y1="2327.8" x2="1203.3" y2="2327.8" stroke="#000" stroke-width="2.7"/>
<text transform="matrix(1,0,0,1.035,0,-81.280)" x="1115.8" y="2322.3" font-size="32.3" font-weight="bold" text-anchor="middle">n.s.</text>
<line x1="964.5" y1="2362.3" x2="1155.6" y2="2362.3" stroke="#000" stroke-width="2.7"/>
<text transform="matrix(1,0,0,1.035,0,-82.509)" x="1068.7" y="2357.4" font-size="32.3" font-weight="bold" text-anchor="middle">n.s.</text>
<path d="M249.1,2176.4 L249.1,2246.2 M242.9,2176.4 h12.4 M242.9,2246.2 h12.4" fill="none" stroke="#000" stroke-width="1.8"/>
<line x1="235.6" y1="2211.3" x2="262.6" y2="2211.3" stroke="#000" stroke-width="4.1"/>
<path d="M289.4,2228.7 L289.4,2299.6 M283.2,2228.7 h12.4 M283.2,2299.6 h12.4" fill="none" stroke="#000" stroke-width="1.8"/>
<line x1="275.9" y1="2264.4" x2="302.9" y2="2264.4" stroke="#000" stroke-width="4.1"/>
<path d="M330,2243.4 L330,2290.7 M323.8,2243.4 h12.4 M323.8,2290.7 h12.4" fill="none" stroke="#000" stroke-width="1.8"/>
<line x1="316.5" y1="2266.7" x2="343.5" y2="2266.7" stroke="#000" stroke-width="4.1"/>
<path d="M438.9,2146.6 L438.9,2257.8 M432.7,2146.6 h12.4 M432.7,2257.8 h12.4" fill="none" stroke="#000" stroke-width="1.8"/>
<line x1="425.4" y1="2202.4" x2="452.4" y2="2202.4" stroke="#000" stroke-width="4.1"/>
<path d="M479.2,2048.6 L479.2,2170.6 M473.0,2048.6 h12.4 M473.0,2170.6 h12.4" fill="none" stroke="#000" stroke-width="1.8"/>
<line x1="465.7" y1="2109" x2="492.7" y2="2109" stroke="#000" stroke-width="4.1"/>
<line x1="506.4" y1="2394.5" x2="533.4" y2="2394.5" stroke="#000" stroke-width="4.1"/>
<circle cx="203.4" cy="2419.7" r="9.6" fill="#000"/>
<circle cx="208.2" cy="2419.2" r="9.6" fill="#000"/>
<circle cx="213.1" cy="2419.7" r="9.6" fill="#000"/>
<circle cx="392.9" cy="2419.7" r="9.6" fill="#000"/>
<circle cx="397.8" cy="2419.2" r="9.6" fill="#000"/>
<circle cx="402.8" cy="2419.7" r="9.6" fill="#000"/>
<circle cx="244.8" cy="2188" r="9.6" fill="#f33d46"/>
<circle cx="253.8" cy="2188" r="9.6" fill="#f33d46"/>
<circle cx="249.1" cy="2206.6" r="9.6" fill="#f33d46"/>
<circle cx="249.8" cy="2261.6" r="9.6" fill="#f33d46"/>
<circle cx="289.4" cy="2215.9" r="9.6" fill="#c42bf8"/>
<circle cx="289.4" cy="2261.6" r="9.6" fill="#c42bf8"/>
<circle cx="289.4" cy="2281" r="9.6" fill="#c42bf8"/>
<circle cx="289.4" cy="2299.6" r="9.6" fill="#c42bf8"/>
<circle cx="330" cy="2234.5" r="9.6" fill="#1e00fa"/>
<circle cx="330" cy="2261.6" r="9.6" fill="#1e00fa"/>
<circle cx="335.1" cy="2281" r="9.6" fill="#1e00fa"/>
<circle cx="326.2" cy="2290.7" r="9.6" fill="#1e00fa"/>
<circle cx="438.9" cy="2131.9" r="9.6" fill="#f33d46"/>
<circle cx="438.9" cy="2188" r="9.6" fill="#f33d46"/>
<circle cx="438.9" cy="2224.8" r="9.6" fill="#f33d46"/>
<circle cx="438.9" cy="2261.6" r="9.6" fill="#f33d46"/>
<circle cx="479.2" cy="2040" r="9.6" fill="#c42bf8"/>
<circle cx="479.2" cy="2095.8" r="9.6" fill="#c42bf8"/>
<circle cx="479.2" cy="2114.4" r="9.6" fill="#c42bf8"/>
<circle cx="479.2" cy="2188" r="9.6" fill="#c42bf8"/>
<circle cx="519.9" cy="2373.2" r="9.6" fill="#1e00fa"/>
<circle cx="519.9" cy="2391.4" r="9.6" fill="#1e00fa"/>
<circle cx="525" cy="2401.1" r="9.6" fill="#1e00fa"/>
<circle cx="515.3" cy="2410.8" r="9.6" fill="#1e00fa"/>
<line x1="614.2" y1="2405" x2="641.2" y2="2405" stroke="#000" stroke-width="4.1"/>
<line x1="655.7" y1="2403" x2="682.7" y2="2403" stroke="#000" stroke-width="4.1"/>
<line x1="695.5" y1="2407" x2="722.5" y2="2407" stroke="#000" stroke-width="4.1"/>
<line x1="804.0" y1="2403" x2="831.0" y2="2403" stroke="#000" stroke-width="4.1"/>
<line x1="844.7" y1="2399.2" x2="871.7" y2="2399.2" stroke="#000" stroke-width="4.1"/>
<path d="M898.9,2383.7 L898.9,2419 M892.6999999999999,2383.7 h12.4 M892.6999999999999,2419 h12.4" fill="none" stroke="#000" stroke-width="1.8"/>
<line x1="885.4" y1="2403" x2="912.4" y2="2403" stroke="#000" stroke-width="4.1"/>
<circle cx="582.8" cy="2419.7" r="9.6" fill="#000"/>
<circle cx="587.6" cy="2419.2" r="9.6" fill="#000"/>
<circle cx="592.4" cy="2419.7" r="9.6" fill="#000"/>
<circle cx="771.8" cy="2419.7" r="9.6" fill="#000"/>
<circle cx="776.6" cy="2419.2" r="9.6" fill="#000"/>
<circle cx="781.5" cy="2419.7" r="9.6" fill="#000"/>
<circle cx="627.7" cy="2382.5" r="9.6" fill="#f33d46"/>
<circle cx="627.7" cy="2401.1" r="9.6" fill="#f33d46"/>
<circle cx="622.7" cy="2419.7" r="9.6" fill="#f33d46"/>
<circle cx="633.1" cy="2419.7" r="9.6" fill="#f33d46"/>
<circle cx="669.2" cy="2382.5" r="9.6" fill="#c42bf8"/>
<circle cx="666.4" cy="2401.1" r="9.6" fill="#c42bf8"/>
<circle cx="675" cy="2408.9" r="9.6" fill="#c42bf8"/>
<circle cx="663.3" cy="2419.7" r="9.6" fill="#c42bf8"/>
<circle cx="704" cy="2401.1" r="9.6" fill="#1e00fa"/>
<circle cx="714.9" cy="2400" r="9.6" fill="#1e00fa"/>
<circle cx="712.9" cy="2408.9" r="9.6" fill="#1e00fa"/>
<circle cx="705.2" cy="2419.7" r="9.6" fill="#1e00fa"/>
<circle cx="817.5" cy="2382.5" r="9.6" fill="#f33d46"/>
<circle cx="817.5" cy="2401.1" r="9.6" fill="#f33d46"/>
<circle cx="822.2" cy="2410.8" r="9.6" fill="#f33d46"/>
<circle cx="812.5" cy="2419.7" r="9.6" fill="#f33d46"/>
<circle cx="858.2" cy="2381.7" r="9.6" fill="#c42bf8"/>
<circle cx="860.9" cy="2399.2" r="9.6" fill="#c42bf8"/>
<circle cx="854" cy="2401.1" r="9.6" fill="#c42bf8"/>
<circle cx="854" cy="2410.8" r="9.6" fill="#c42bf8"/>
<circle cx="898.9" cy="2372" r="9.6" fill="#1e00fa"/>
<circle cx="903.5" cy="2410.8" r="9.6" fill="#1e00fa"/>
<circle cx="895" cy="2410.8" r="9.6" fill="#1e00fa"/>
<circle cx="895" cy="2419.7" r="9.6" fill="#1e00fa"/>
<line x1="993.9" y1="2396.5" x2="1020.9" y2="2396.5" stroke="#000" stroke-width="4.1"/>
<line x1="1034.0" y1="2278" x2="1061.0" y2="2278" stroke="#000" stroke-width="4.1"/>
<path d="M1088.7,2169 L1088.7,2247 M1082.5,2169 h12.4 M1082.5,2247 h12.4" fill="none" stroke="#000" stroke-width="1.8"/>
<line x1="1075.2" y1="2204.6" x2="1102.2" y2="2204.6" stroke="#000" stroke-width="4.1"/>
<line x1="1183.5" y1="2394" x2="1210.5" y2="2394" stroke="#000" stroke-width="4.1"/>
<line x1="1223.5" y1="2381.2" x2="1250.5" y2="2381.2" stroke="#000" stroke-width="4.1"/>
<line x1="1265.0" y1="2408.3" x2="1292.0" y2="2408.3" stroke="#000" stroke-width="4.1"/>
<circle cx="961.8" cy="2419.4" r="9.6" fill="#000"/>
<circle cx="966.6" cy="2419" r="9.6" fill="#000"/>
<circle cx="971.5" cy="2419.4" r="9.6" fill="#000"/>
<circle cx="1151.8" cy="2419.2" r="9.6" fill="#000"/>
<circle cx="1156.6" cy="2418.8" r="9.6" fill="#000"/>
<circle cx="1161.5" cy="2419.2" r="9.6" fill="#000"/>
<circle cx="1012.2" cy="2383" r="9.6" fill="#f33d46"/>
<circle cx="1002.5" cy="2392.2" r="9.6" fill="#f33d46"/>
<circle cx="1010.5" cy="2401.4" r="9.6" fill="#f33d46"/>
<circle cx="1002.5" cy="2411" r="9.6" fill="#f33d46"/>
<circle cx="1048.4" cy="2262" r="9.6" fill="#c42bf8"/>
<circle cx="1052.8" cy="2271.2" r="9.6" fill="#c42bf8"/>
<circle cx="1042.4" cy="2280.2" r="9.6" fill="#c42bf8"/>
<circle cx="1047.4" cy="2298.8" r="9.6" fill="#c42bf8"/>
<circle cx="1088.7" cy="2160.2" r="9.6" fill="#1e00fa"/>
<circle cx="1088.7" cy="2188.3" r="9.6" fill="#1e00fa"/>
<circle cx="1088.7" cy="2205.8" r="9.6" fill="#1e00fa"/>
<circle cx="1088.7" cy="2262" r="9.6" fill="#1e00fa"/>
<circle cx="1192.5" cy="2383.5" r="9.6" fill="#f33d46"/>
<circle cx="1202.2" cy="2383.5" r="9.6" fill="#f33d46"/>
<circle cx="1201.4" cy="2401.7" r="9.6" fill="#f33d46"/>
<circle cx="1191.3" cy="2412.2" r="9.6" fill="#f33d46"/>
<circle cx="1237" cy="2364.9" r="9.6" fill="#c42bf8"/>
<circle cx="1242.1" cy="2373.4" r="9.6" fill="#c42bf8"/>
<circle cx="1232.4" cy="2382.3" r="9.6" fill="#c42bf8"/>
<circle cx="1237" cy="2401.7" r="9.6" fill="#c42bf8"/>
<circle cx="1273.9" cy="2400.9" r="9.6" fill="#1e00fa"/>
<circle cx="1283.5" cy="2400.9" r="9.6" fill="#1e00fa"/>
<circle cx="1283.5" cy="2411.4" r="9.6" fill="#1e00fa"/>
<circle cx="1273.9" cy="2419.1" r="9.6" fill="#1e00fa"/>
<circle cx="1338.3" cy="1996.9" r="9.4" fill="#000"/>
<text transform="matrix(1,0,0,1.035,0,-70.339)" x="1392.5" y="2009.7" font-size="37" word-spacing="2.5">Uninjured</text>
<circle cx="1338.3" cy="2059.5" r="9.4" fill="#f33d46"/>
<text transform="matrix(1,0,0,1.035,0,-72.530)" x="1390.8" y="2072.3" font-size="38.3" word-spacing="2.5">2 WPI</text>
<circle cx="1338.3" cy="2122.3" r="9.4" fill="#c42bf8"/>
<text transform="matrix(1,0,0,1.035,0,-74.728)" x="1390.8" y="2135.1" font-size="38.3" word-spacing="2.5">4 WPI</text>
<circle cx="1338.3" cy="2184.8" r="9.4" fill="#1e00fa"/>
<text transform="matrix(1,0,0,1.035,0,-76.916)" x="1390.8" y="2197.6" font-size="38.3" word-spacing="2.5">8 WPI</text>
</g>
</svg>
</body></html>
